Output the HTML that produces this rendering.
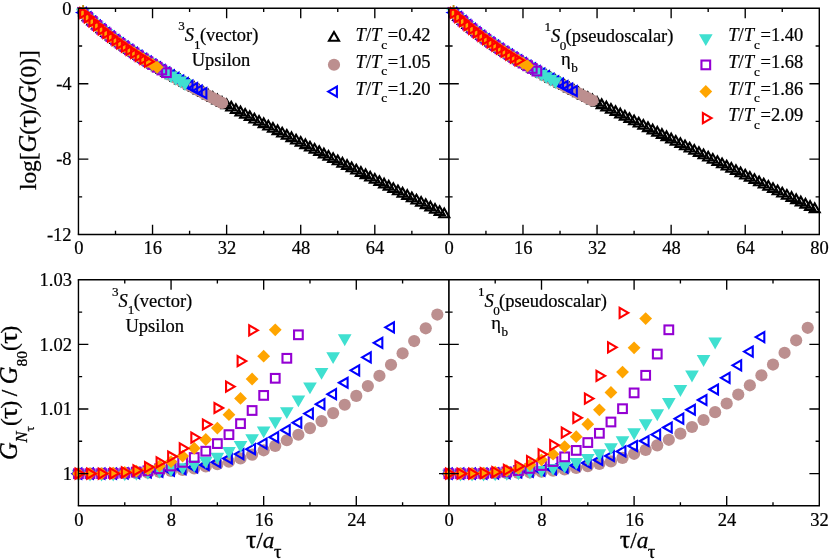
<!DOCTYPE html>
<html><head><meta charset="utf-8"><title>chart</title>
<style>html,body{margin:0;padding:0;background:#fff;overflow:hidden}svg{display:block;will-change:transform}</style></head>
<body>
<svg width="830" height="559" viewBox="0 0 830 559">
<rect width="830" height="559" fill="#fff"/>
<defs><clipPath id="cl"><rect x="77.85" y="7.7" width="373.65" height="227.45"/></clipPath><clipPath id="cr"><rect x="448.3" y="7.7" width="373.6" height="227.45"/></clipPath></defs>
<g clip-path="url(#cl)">
<g>
<path d="M78.45 2.5L73.43 11.2L83.47 11.2Z" fill="none" stroke="#000000" stroke-width="2.1"/>
<path d="M83.08 7.1L78.06 15.8L88.1 15.8Z" fill="none" stroke="#000000" stroke-width="2.1"/>
<path d="M87.71 11.48L82.69 20.18L92.73 20.18Z" fill="none" stroke="#000000" stroke-width="2.1"/>
<path d="M92.34 15.67L87.32 24.37L97.36 24.37Z" fill="none" stroke="#000000" stroke-width="2.1"/>
<path d="M96.97 19.68L91.95 28.38L102 28.38Z" fill="none" stroke="#000000" stroke-width="2.1"/>
<path d="M101.6 23.53L96.58 32.23L106.63 32.23Z" fill="none" stroke="#000000" stroke-width="2.1"/>
<path d="M106.23 27.23L101.21 35.93L111.26 35.93Z" fill="none" stroke="#000000" stroke-width="2.1"/>
<path d="M110.86 30.8L105.84 39.5L115.89 39.5Z" fill="none" stroke="#000000" stroke-width="2.1"/>
<path d="M115.5 34.25L110.47 42.95L120.52 42.95Z" fill="none" stroke="#000000" stroke-width="2.1"/>
<path d="M120.13 37.59L115.1 46.29L125.15 46.29Z" fill="none" stroke="#000000" stroke-width="2.1"/>
<path d="M124.76 40.83L119.73 49.53L129.78 49.53Z" fill="none" stroke="#000000" stroke-width="2.1"/>
<path d="M129.39 43.99L124.36 52.69L134.41 52.69Z" fill="none" stroke="#000000" stroke-width="2.1"/>
<path d="M134.02 47.06L128.99 55.76L139.04 55.76Z" fill="none" stroke="#000000" stroke-width="2.1"/>
<path d="M138.65 50.06L133.63 58.76L143.67 58.76Z" fill="none" stroke="#000000" stroke-width="2.1"/>
<path d="M143.28 53L138.26 61.7L148.3 61.7Z" fill="none" stroke="#000000" stroke-width="2.1"/>
<path d="M147.91 55.87L142.89 64.57L152.93 64.57Z" fill="none" stroke="#000000" stroke-width="2.1"/>
<path d="M152.54 58.7L147.52 67.4L157.56 67.4Z" fill="none" stroke="#000000" stroke-width="2.1"/>
<path d="M157.17 61.47L152.15 70.17L162.19 70.17Z" fill="none" stroke="#000000" stroke-width="2.1"/>
<path d="M161.8 64.19L156.78 72.89L166.82 72.89Z" fill="none" stroke="#000000" stroke-width="2.1"/>
<path d="M166.43 66.88L161.41 75.58L171.45 75.58Z" fill="none" stroke="#000000" stroke-width="2.1"/>
<path d="M171.06 69.53L166.04 78.23L176.09 78.23Z" fill="none" stroke="#000000" stroke-width="2.1"/>
<path d="M175.69 72.15L170.67 80.85L180.72 80.85Z" fill="none" stroke="#000000" stroke-width="2.1"/>
<path d="M180.32 74.74L175.3 83.44L185.35 83.44Z" fill="none" stroke="#000000" stroke-width="2.1"/>
<path d="M184.95 77.3L179.93 86L189.98 86Z" fill="none" stroke="#000000" stroke-width="2.1"/>
<path d="M189.59 79.83L184.56 88.53L194.61 88.53Z" fill="none" stroke="#000000" stroke-width="2.1"/>
<path d="M194.22 82.35L189.19 91.05L199.24 91.05Z" fill="none" stroke="#000000" stroke-width="2.1"/>
<path d="M198.85 84.84L193.82 93.54L203.87 93.54Z" fill="none" stroke="#000000" stroke-width="2.1"/>
<path d="M203.48 87.32L198.45 96.02L208.5 96.02Z" fill="none" stroke="#000000" stroke-width="2.1"/>
<path d="M208.11 89.77L203.08 98.47L213.13 98.47Z" fill="none" stroke="#000000" stroke-width="2.1"/>
<path d="M212.74 92.22L207.72 100.92L217.76 100.92Z" fill="none" stroke="#000000" stroke-width="2.1"/>
<path d="M217.37 94.65L212.35 103.35L222.39 103.35Z" fill="none" stroke="#000000" stroke-width="2.1"/>
<path d="M222 97.07L216.98 105.77L227.02 105.77Z" fill="none" stroke="#000000" stroke-width="2.1"/>
<path d="M226.63 99.47L221.61 108.17L231.65 108.17Z" fill="none" stroke="#000000" stroke-width="2.1"/>
<path d="M231.26 101.87L226.24 110.57L236.28 110.57Z" fill="none" stroke="#000000" stroke-width="2.1"/>
<path d="M235.89 104.26L230.87 112.96L240.91 112.96Z" fill="none" stroke="#000000" stroke-width="2.1"/>
<path d="M240.52 106.64L235.5 115.34L245.54 115.34Z" fill="none" stroke="#000000" stroke-width="2.1"/>
<path d="M245.15 109.01L240.13 117.71L250.18 117.71Z" fill="none" stroke="#000000" stroke-width="2.1"/>
<path d="M249.78 111.37L244.76 120.07L254.81 120.07Z" fill="none" stroke="#000000" stroke-width="2.1"/>
<path d="M254.41 113.73L249.39 122.43L259.44 122.43Z" fill="none" stroke="#000000" stroke-width="2.1"/>
<path d="M259.04 116.09L254.02 124.79L264.07 124.79Z" fill="none" stroke="#000000" stroke-width="2.1"/>
<path d="M263.68 118.44L258.65 127.14L268.7 127.14Z" fill="none" stroke="#000000" stroke-width="2.1"/>
<path d="M268.31 120.78L263.28 129.48L273.33 129.48Z" fill="none" stroke="#000000" stroke-width="2.1"/>
<path d="M272.94 123.12L267.91 131.82L277.96 131.82Z" fill="none" stroke="#000000" stroke-width="2.1"/>
<path d="M277.57 125.45L272.54 134.15L282.59 134.15Z" fill="none" stroke="#000000" stroke-width="2.1"/>
<path d="M282.2 127.79L277.17 136.49L287.22 136.49Z" fill="none" stroke="#000000" stroke-width="2.1"/>
<path d="M286.83 130.12L281.81 138.82L291.85 138.82Z" fill="none" stroke="#000000" stroke-width="2.1"/>
<path d="M291.46 132.44L286.44 141.14L296.48 141.14Z" fill="none" stroke="#000000" stroke-width="2.1"/>
<path d="M296.09 134.77L291.07 143.47L301.11 143.47Z" fill="none" stroke="#000000" stroke-width="2.1"/>
<path d="M300.72 137.09L295.7 145.79L305.74 145.79Z" fill="none" stroke="#000000" stroke-width="2.1"/>
<path d="M305.35 139.41L300.33 148.11L310.37 148.11Z" fill="none" stroke="#000000" stroke-width="2.1"/>
<path d="M309.98 141.73L304.96 150.43L315 150.43Z" fill="none" stroke="#000000" stroke-width="2.1"/>
<path d="M314.61 144.04L309.59 152.74L319.63 152.74Z" fill="none" stroke="#000000" stroke-width="2.1"/>
<path d="M319.24 146.36L314.22 155.06L324.27 155.06Z" fill="none" stroke="#000000" stroke-width="2.1"/>
<path d="M323.87 148.67L318.85 157.37L328.9 157.37Z" fill="none" stroke="#000000" stroke-width="2.1"/>
<path d="M328.5 150.98L323.48 159.68L333.53 159.68Z" fill="none" stroke="#000000" stroke-width="2.1"/>
<path d="M333.13 153.29L328.11 161.99L338.16 161.99Z" fill="none" stroke="#000000" stroke-width="2.1"/>
<path d="M337.76 155.6L332.74 164.3L342.79 164.3Z" fill="none" stroke="#000000" stroke-width="2.1"/>
<path d="M342.4 157.91L337.37 166.61L347.42 166.61Z" fill="none" stroke="#000000" stroke-width="2.1"/>
<path d="M347.03 160.22L342 168.92L352.05 168.92Z" fill="none" stroke="#000000" stroke-width="2.1"/>
<path d="M351.66 162.53L346.63 171.23L356.68 171.23Z" fill="none" stroke="#000000" stroke-width="2.1"/>
<path d="M356.29 164.84L351.26 173.54L361.31 173.54Z" fill="none" stroke="#000000" stroke-width="2.1"/>
<path d="M360.92 167.14L355.9 175.84L365.94 175.84Z" fill="none" stroke="#000000" stroke-width="2.1"/>
<path d="M365.55 169.45L360.53 178.15L370.57 178.15Z" fill="none" stroke="#000000" stroke-width="2.1"/>
<path d="M370.18 171.75L365.16 180.45L375.2 180.45Z" fill="none" stroke="#000000" stroke-width="2.1"/>
<path d="M374.81 174.06L369.79 182.76L379.83 182.76Z" fill="none" stroke="#000000" stroke-width="2.1"/>
<path d="M379.44 176.36L374.42 185.06L384.46 185.06Z" fill="none" stroke="#000000" stroke-width="2.1"/>
<path d="M384.07 178.66L379.05 187.36L389.09 187.36Z" fill="none" stroke="#000000" stroke-width="2.1"/>
<path d="M388.7 180.97L383.68 189.67L393.72 189.67Z" fill="none" stroke="#000000" stroke-width="2.1"/>
<path d="M393.33 183.27L388.31 191.97L398.36 191.97Z" fill="none" stroke="#000000" stroke-width="2.1"/>
<path d="M397.96 185.57L392.94 194.27L402.99 194.27Z" fill="none" stroke="#000000" stroke-width="2.1"/>
<path d="M402.59 187.88L397.57 196.58L407.62 196.58Z" fill="none" stroke="#000000" stroke-width="2.1"/>
<path d="M407.22 190.18L402.2 198.88L412.25 198.88Z" fill="none" stroke="#000000" stroke-width="2.1"/>
<path d="M411.86 192.48L406.83 201.18L416.88 201.18Z" fill="none" stroke="#000000" stroke-width="2.1"/>
<path d="M416.49 194.78L411.46 203.48L421.51 203.48Z" fill="none" stroke="#000000" stroke-width="2.1"/>
<path d="M421.12 197.08L416.09 205.78L426.14 205.78Z" fill="none" stroke="#000000" stroke-width="2.1"/>
<path d="M425.75 199.39L420.72 208.09L430.77 208.09Z" fill="none" stroke="#000000" stroke-width="2.1"/>
<path d="M430.38 201.69L425.35 210.39L435.4 210.39Z" fill="none" stroke="#000000" stroke-width="2.1"/>
<path d="M435.01 203.99L429.99 212.69L440.03 212.69Z" fill="none" stroke="#000000" stroke-width="2.1"/>
<path d="M439.64 206.29L434.62 214.99L444.66 214.99Z" fill="none" stroke="#000000" stroke-width="2.1"/>
<path d="M444.27 208.59L439.25 217.29L449.29 217.29Z" fill="none" stroke="#000000" stroke-width="2.1"/>
</g>
<g>
<circle cx="78.45" cy="8.3" r="6.1" fill="#bc8f8f" stroke="none"/>
<circle cx="83.08" cy="12.9" r="6.1" fill="#bc8f8f" stroke="none"/>
<circle cx="87.71" cy="17.28" r="6.1" fill="#bc8f8f" stroke="none"/>
<circle cx="92.34" cy="21.47" r="6.1" fill="#bc8f8f" stroke="none"/>
<circle cx="96.97" cy="25.48" r="6.1" fill="#bc8f8f" stroke="none"/>
<circle cx="101.6" cy="29.33" r="6.1" fill="#bc8f8f" stroke="none"/>
<circle cx="106.23" cy="33.03" r="6.1" fill="#bc8f8f" stroke="none"/>
<circle cx="110.86" cy="36.6" r="6.1" fill="#bc8f8f" stroke="none"/>
<circle cx="115.5" cy="40.05" r="6.1" fill="#bc8f8f" stroke="none"/>
<circle cx="120.13" cy="43.39" r="6.1" fill="#bc8f8f" stroke="none"/>
<circle cx="124.76" cy="46.63" r="6.1" fill="#bc8f8f" stroke="none"/>
<circle cx="129.39" cy="49.79" r="6.1" fill="#bc8f8f" stroke="none"/>
<circle cx="134.02" cy="52.86" r="6.1" fill="#bc8f8f" stroke="none"/>
<circle cx="138.65" cy="55.86" r="6.1" fill="#bc8f8f" stroke="none"/>
<circle cx="143.28" cy="58.8" r="6.1" fill="#bc8f8f" stroke="none"/>
<circle cx="147.91" cy="61.67" r="6.1" fill="#bc8f8f" stroke="none"/>
<circle cx="152.54" cy="64.5" r="6.1" fill="#bc8f8f" stroke="none"/>
<circle cx="157.17" cy="67.27" r="6.1" fill="#bc8f8f" stroke="none"/>
<circle cx="161.8" cy="69.99" r="6.1" fill="#bc8f8f" stroke="none"/>
<circle cx="166.43" cy="72.68" r="6.1" fill="#bc8f8f" stroke="none"/>
<circle cx="171.06" cy="75.33" r="6.1" fill="#bc8f8f" stroke="none"/>
<circle cx="175.69" cy="77.95" r="6.1" fill="#bc8f8f" stroke="none"/>
<circle cx="180.32" cy="80.54" r="6.1" fill="#bc8f8f" stroke="none"/>
<circle cx="184.95" cy="83.1" r="6.1" fill="#bc8f8f" stroke="none"/>
<circle cx="189.59" cy="85.63" r="6.1" fill="#bc8f8f" stroke="none"/>
<circle cx="194.22" cy="88.15" r="6.1" fill="#bc8f8f" stroke="none"/>
<circle cx="198.85" cy="90.64" r="6.1" fill="#bc8f8f" stroke="none"/>
<circle cx="203.48" cy="93.12" r="6.1" fill="#bc8f8f" stroke="none"/>
<circle cx="208.11" cy="95.57" r="6.1" fill="#bc8f8f" stroke="none"/>
<circle cx="212.74" cy="98.02" r="6.1" fill="#bc8f8f" stroke="none"/>
<circle cx="217.37" cy="100.45" r="6.1" fill="#bc8f8f" stroke="none"/>
<circle cx="222" cy="102.87" r="6.1" fill="#bc8f8f" stroke="none"/>
</g>
<g>
<path d="M72.65 8.3L81.35 3.28L81.35 13.32Z" fill="none" stroke="#0000ff" stroke-width="2.1"/>
<path d="M77.28 12.9L85.98 7.88L85.98 17.92Z" fill="none" stroke="#0000ff" stroke-width="2.1"/>
<path d="M81.91 17.28L90.61 12.26L90.61 22.31Z" fill="none" stroke="#0000ff" stroke-width="2.1"/>
<path d="M86.54 21.47L95.24 16.45L95.24 26.49Z" fill="none" stroke="#0000ff" stroke-width="2.1"/>
<path d="M91.17 25.48L99.87 20.46L99.87 30.5Z" fill="none" stroke="#0000ff" stroke-width="2.1"/>
<path d="M95.8 29.33L104.5 24.3L104.5 34.35Z" fill="none" stroke="#0000ff" stroke-width="2.1"/>
<path d="M100.43 33.03L109.13 28.01L109.13 38.05Z" fill="none" stroke="#0000ff" stroke-width="2.1"/>
<path d="M105.06 36.6L113.76 31.58L113.76 41.62Z" fill="none" stroke="#0000ff" stroke-width="2.1"/>
<path d="M109.7 40.05L118.4 35.03L118.4 45.07Z" fill="none" stroke="#0000ff" stroke-width="2.1"/>
<path d="M114.33 43.39L123.03 38.37L123.03 48.41Z" fill="none" stroke="#0000ff" stroke-width="2.1"/>
<path d="M118.96 46.63L127.66 41.61L127.66 51.66Z" fill="none" stroke="#0000ff" stroke-width="2.1"/>
<path d="M123.59 49.79L132.29 44.77L132.29 54.81Z" fill="none" stroke="#0000ff" stroke-width="2.1"/>
<path d="M128.22 52.86L136.92 47.84L136.92 57.89Z" fill="none" stroke="#0000ff" stroke-width="2.1"/>
<path d="M132.85 55.86L141.55 50.84L141.55 60.89Z" fill="none" stroke="#0000ff" stroke-width="2.1"/>
<path d="M137.48 58.8L146.18 53.78L146.18 63.82Z" fill="none" stroke="#0000ff" stroke-width="2.1"/>
<path d="M142.11 61.67L150.81 56.65L150.81 66.7Z" fill="none" stroke="#0000ff" stroke-width="2.1"/>
<path d="M146.74 64.5L155.44 59.47L155.44 69.52Z" fill="none" stroke="#0000ff" stroke-width="2.1"/>
<path d="M151.37 67.27L160.07 62.24L160.07 72.29Z" fill="none" stroke="#0000ff" stroke-width="2.1"/>
<path d="M156 69.99L164.7 64.97L164.7 75.02Z" fill="none" stroke="#0000ff" stroke-width="2.1"/>
<path d="M160.63 72.68L169.33 67.66L169.33 77.7Z" fill="none" stroke="#0000ff" stroke-width="2.1"/>
<path d="M165.26 75.33L173.96 70.31L173.96 80.35Z" fill="none" stroke="#0000ff" stroke-width="2.1"/>
<path d="M169.89 77.95L178.59 72.93L178.59 82.97Z" fill="none" stroke="#0000ff" stroke-width="2.1"/>
<path d="M174.52 80.54L183.22 75.51L183.22 85.56Z" fill="none" stroke="#0000ff" stroke-width="2.1"/>
<path d="M179.15 83.1L187.85 78.07L187.85 88.12Z" fill="none" stroke="#0000ff" stroke-width="2.1"/>
<path d="M183.78 85.63L192.49 80.61L192.49 90.66Z" fill="none" stroke="#0000ff" stroke-width="2.1"/>
<path d="M188.42 88.15L197.12 83.12L197.12 93.17Z" fill="none" stroke="#0000ff" stroke-width="2.1"/>
<path d="M193.05 90.64L201.75 85.62L201.75 95.66Z" fill="none" stroke="#0000ff" stroke-width="2.1"/>
<path d="M197.68 93.12L206.38 88.09L206.38 98.14Z" fill="none" stroke="#0000ff" stroke-width="2.1"/>
</g>
<g>
<path d="M78.45 14.1L73.43 5.4L83.47 5.4Z" fill="#40e0d0" stroke="#40e0d0" stroke-width="2.1"/>
<path d="M83.08 18.7L78.06 10L88.1 10Z" fill="#40e0d0" stroke="#40e0d0" stroke-width="2.1"/>
<path d="M87.71 23.08L82.69 14.38L92.73 14.38Z" fill="#40e0d0" stroke="#40e0d0" stroke-width="2.1"/>
<path d="M92.34 27.27L87.32 18.57L97.36 18.57Z" fill="#40e0d0" stroke="#40e0d0" stroke-width="2.1"/>
<path d="M96.97 31.28L91.95 22.58L102 22.58Z" fill="#40e0d0" stroke="#40e0d0" stroke-width="2.1"/>
<path d="M101.6 35.13L96.58 26.43L106.63 26.43Z" fill="#40e0d0" stroke="#40e0d0" stroke-width="2.1"/>
<path d="M106.23 38.83L101.21 30.13L111.26 30.13Z" fill="#40e0d0" stroke="#40e0d0" stroke-width="2.1"/>
<path d="M110.86 42.4L105.84 33.7L115.89 33.7Z" fill="#40e0d0" stroke="#40e0d0" stroke-width="2.1"/>
<path d="M115.5 45.85L110.47 37.15L120.52 37.15Z" fill="#40e0d0" stroke="#40e0d0" stroke-width="2.1"/>
<path d="M120.13 49.19L115.1 40.49L125.15 40.49Z" fill="#40e0d0" stroke="#40e0d0" stroke-width="2.1"/>
<path d="M124.76 52.43L119.73 43.73L129.78 43.73Z" fill="#40e0d0" stroke="#40e0d0" stroke-width="2.1"/>
<path d="M129.39 55.59L124.36 46.89L134.41 46.89Z" fill="#40e0d0" stroke="#40e0d0" stroke-width="2.1"/>
<path d="M134.02 58.66L128.99 49.96L139.04 49.96Z" fill="#40e0d0" stroke="#40e0d0" stroke-width="2.1"/>
<path d="M138.65 61.66L133.63 52.96L143.67 52.96Z" fill="#40e0d0" stroke="#40e0d0" stroke-width="2.1"/>
<path d="M143.28 64.6L138.26 55.9L148.3 55.9Z" fill="#40e0d0" stroke="#40e0d0" stroke-width="2.1"/>
<path d="M147.91 67.47L142.89 58.77L152.93 58.77Z" fill="#40e0d0" stroke="#40e0d0" stroke-width="2.1"/>
<path d="M152.54 70.3L147.52 61.6L157.56 61.6Z" fill="#40e0d0" stroke="#40e0d0" stroke-width="2.1"/>
<path d="M157.17 73.07L152.15 64.37L162.19 64.37Z" fill="#40e0d0" stroke="#40e0d0" stroke-width="2.1"/>
<path d="M161.8 75.79L156.78 67.09L166.82 67.09Z" fill="#40e0d0" stroke="#40e0d0" stroke-width="2.1"/>
<path d="M166.43 78.48L161.41 69.78L171.45 69.78Z" fill="#40e0d0" stroke="#40e0d0" stroke-width="2.1"/>
<path d="M171.06 81.13L166.04 72.43L176.09 72.43Z" fill="#40e0d0" stroke="#40e0d0" stroke-width="2.1"/>
<path d="M175.69 83.75L170.67 75.05L180.72 75.05Z" fill="#40e0d0" stroke="#40e0d0" stroke-width="2.1"/>
<path d="M180.32 86.34L175.3 77.64L185.35 77.64Z" fill="#40e0d0" stroke="#40e0d0" stroke-width="2.1"/>
<path d="M184.95 88.9L179.93 80.2L189.98 80.2Z" fill="#40e0d0" stroke="#40e0d0" stroke-width="2.1"/>
</g>
<g>
<rect x="74.1" y="3.95" width="8.7" height="8.7" fill="none" stroke="#9400d3" stroke-width="2.1"/>
<rect x="78.73" y="8.55" width="8.7" height="8.7" fill="none" stroke="#9400d3" stroke-width="2.1"/>
<rect x="83.36" y="12.93" width="8.7" height="8.7" fill="none" stroke="#9400d3" stroke-width="2.1"/>
<rect x="87.99" y="17.12" width="8.7" height="8.7" fill="none" stroke="#9400d3" stroke-width="2.1"/>
<rect x="92.62" y="21.13" width="8.7" height="8.7" fill="none" stroke="#9400d3" stroke-width="2.1"/>
<rect x="97.25" y="24.98" width="8.7" height="8.7" fill="none" stroke="#9400d3" stroke-width="2.1"/>
<rect x="101.88" y="28.68" width="8.7" height="8.7" fill="none" stroke="#9400d3" stroke-width="2.1"/>
<rect x="106.51" y="32.25" width="8.7" height="8.7" fill="none" stroke="#9400d3" stroke-width="2.1"/>
<rect x="111.15" y="35.7" width="8.7" height="8.7" fill="none" stroke="#9400d3" stroke-width="2.1"/>
<rect x="115.78" y="39.04" width="8.7" height="8.7" fill="none" stroke="#9400d3" stroke-width="2.1"/>
<rect x="120.41" y="42.28" width="8.7" height="8.7" fill="none" stroke="#9400d3" stroke-width="2.1"/>
<rect x="125.04" y="45.44" width="8.7" height="8.7" fill="none" stroke="#9400d3" stroke-width="2.1"/>
<rect x="129.67" y="48.51" width="8.7" height="8.7" fill="none" stroke="#9400d3" stroke-width="2.1"/>
<rect x="134.3" y="51.51" width="8.7" height="8.7" fill="none" stroke="#9400d3" stroke-width="2.1"/>
<rect x="138.93" y="54.45" width="8.7" height="8.7" fill="none" stroke="#9400d3" stroke-width="2.1"/>
<rect x="143.56" y="57.32" width="8.7" height="8.7" fill="none" stroke="#9400d3" stroke-width="2.1"/>
<rect x="148.19" y="60.15" width="8.7" height="8.7" fill="none" stroke="#9400d3" stroke-width="2.1"/>
<rect x="152.82" y="62.92" width="8.7" height="8.7" fill="none" stroke="#9400d3" stroke-width="2.1"/>
<rect x="157.45" y="65.64" width="8.7" height="8.7" fill="none" stroke="#9400d3" stroke-width="2.1"/>
<rect x="162.08" y="68.33" width="8.7" height="8.7" fill="none" stroke="#9400d3" stroke-width="2.1"/>
</g>
<g>
<path d="M72.05 8.3L78.45 1.9L84.85 8.3L78.45 14.7Z" fill="#ffa500" stroke="none"/>
<path d="M76.68 12.9L83.08 6.5L89.48 12.9L83.08 19.3Z" fill="#ffa500" stroke="none"/>
<path d="M81.31 17.28L87.71 10.88L94.11 17.28L87.71 23.68Z" fill="#ffa500" stroke="none"/>
<path d="M85.94 21.47L92.34 15.07L98.74 21.47L92.34 27.87Z" fill="#ffa500" stroke="none"/>
<path d="M90.57 25.48L96.97 19.08L103.37 25.48L96.97 31.88Z" fill="#ffa500" stroke="none"/>
<path d="M95.2 29.33L101.6 22.93L108 29.33L101.6 35.73Z" fill="#ffa500" stroke="none"/>
<path d="M99.83 33.03L106.23 26.63L112.63 33.03L106.23 39.43Z" fill="#ffa500" stroke="none"/>
<path d="M104.46 36.6L110.86 30.2L117.26 36.6L110.86 43Z" fill="#ffa500" stroke="none"/>
<path d="M109.09 40.05L115.5 33.65L121.9 40.05L115.5 46.45Z" fill="#ffa500" stroke="none"/>
<path d="M113.73 43.39L120.13 36.99L126.53 43.39L120.13 49.79Z" fill="#ffa500" stroke="none"/>
<path d="M118.36 46.63L124.76 40.23L131.16 46.63L124.76 53.03Z" fill="#ffa500" stroke="none"/>
<path d="M122.99 49.79L129.39 43.39L135.79 49.79L129.39 56.19Z" fill="#ffa500" stroke="none"/>
<path d="M127.62 52.86L134.02 46.46L140.42 52.86L134.02 59.26Z" fill="#ffa500" stroke="none"/>
<path d="M132.25 55.86L138.65 49.46L145.05 55.86L138.65 62.26Z" fill="#ffa500" stroke="none"/>
<path d="M136.88 58.8L143.28 52.4L149.68 58.8L143.28 65.2Z" fill="#ffa500" stroke="none"/>
<path d="M141.51 61.67L147.91 55.27L154.31 61.67L147.91 68.07Z" fill="#ffa500" stroke="none"/>
<path d="M146.14 64.5L152.54 58.1L158.94 64.5L152.54 70.9Z" fill="#ffa500" stroke="none"/>
<path d="M150.77 67.27L157.17 60.87L163.57 67.27L157.17 73.67Z" fill="#ffa500" stroke="none"/>
</g>
<g>
<path d="M84.25 8.3L75.55 3.28L75.55 13.32Z" fill="none" stroke="#ff0000" stroke-width="2.1"/>
<path d="M88.88 12.9L80.18 7.88L80.18 17.92Z" fill="none" stroke="#ff0000" stroke-width="2.1"/>
<path d="M93.51 17.28L84.81 12.26L84.81 22.31Z" fill="none" stroke="#ff0000" stroke-width="2.1"/>
<path d="M98.14 21.47L89.44 16.45L89.44 26.49Z" fill="none" stroke="#ff0000" stroke-width="2.1"/>
<path d="M102.77 25.48L94.07 20.46L94.07 30.5Z" fill="none" stroke="#ff0000" stroke-width="2.1"/>
<path d="M107.4 29.33L98.7 24.3L98.7 34.35Z" fill="none" stroke="#ff0000" stroke-width="2.1"/>
<path d="M112.03 33.03L103.33 28.01L103.33 38.05Z" fill="none" stroke="#ff0000" stroke-width="2.1"/>
<path d="M116.66 36.6L107.96 31.58L107.96 41.62Z" fill="none" stroke="#ff0000" stroke-width="2.1"/>
<path d="M121.3 40.05L112.59 35.03L112.59 45.07Z" fill="none" stroke="#ff0000" stroke-width="2.1"/>
<path d="M125.93 43.39L117.23 38.37L117.23 48.41Z" fill="none" stroke="#ff0000" stroke-width="2.1"/>
<path d="M130.56 46.63L121.86 41.61L121.86 51.66Z" fill="none" stroke="#ff0000" stroke-width="2.1"/>
<path d="M135.19 49.79L126.49 44.77L126.49 54.81Z" fill="none" stroke="#ff0000" stroke-width="2.1"/>
<path d="M139.82 52.86L131.12 47.84L131.12 57.89Z" fill="none" stroke="#ff0000" stroke-width="2.1"/>
<path d="M144.45 55.86L135.75 50.84L135.75 60.89Z" fill="none" stroke="#ff0000" stroke-width="2.1"/>
<path d="M149.08 58.8L140.38 53.78L140.38 63.82Z" fill="none" stroke="#ff0000" stroke-width="2.1"/>
<path d="M153.71 61.67L145.01 56.65L145.01 66.7Z" fill="none" stroke="#ff0000" stroke-width="2.1"/>
</g>
</g>
<g clip-path="url(#cr)">
<g>
<path d="M448.9 2.5L443.88 11.2L453.92 11.2Z" fill="none" stroke="#000000" stroke-width="2.1"/>
<path d="M453.53 6.99L448.51 15.69L458.55 15.69Z" fill="none" stroke="#000000" stroke-width="2.1"/>
<path d="M458.16 11.26L453.14 19.96L463.18 19.96Z" fill="none" stroke="#000000" stroke-width="2.1"/>
<path d="M462.79 15.34L457.77 24.04L467.81 24.04Z" fill="none" stroke="#000000" stroke-width="2.1"/>
<path d="M467.42 19.25L462.4 27.95L472.44 27.95Z" fill="none" stroke="#000000" stroke-width="2.1"/>
<path d="M472.05 23L467.03 31.7L477.07 31.7Z" fill="none" stroke="#000000" stroke-width="2.1"/>
<path d="M476.68 26.61L471.66 35.31L481.7 35.31Z" fill="none" stroke="#000000" stroke-width="2.1"/>
<path d="M481.31 30.09L476.29 38.79L486.33 38.79Z" fill="none" stroke="#000000" stroke-width="2.1"/>
<path d="M485.94 33.46L480.92 42.16L490.96 42.16Z" fill="none" stroke="#000000" stroke-width="2.1"/>
<path d="M490.57 36.71L485.55 45.41L495.59 45.41Z" fill="none" stroke="#000000" stroke-width="2.1"/>
<path d="M495.2 39.88L490.18 48.58L500.22 48.58Z" fill="none" stroke="#000000" stroke-width="2.1"/>
<path d="M499.83 42.95L494.81 51.65L504.85 51.65Z" fill="none" stroke="#000000" stroke-width="2.1"/>
<path d="M504.46 45.95L499.44 54.65L509.48 54.65Z" fill="none" stroke="#000000" stroke-width="2.1"/>
<path d="M509.09 48.87L504.07 57.57L514.11 57.57Z" fill="none" stroke="#000000" stroke-width="2.1"/>
<path d="M513.72 51.74L508.7 60.44L518.74 60.44Z" fill="none" stroke="#000000" stroke-width="2.1"/>
<path d="M518.35 54.54L513.33 63.24L523.37 63.24Z" fill="none" stroke="#000000" stroke-width="2.1"/>
<path d="M522.98 57.29L517.96 65.99L528 65.99Z" fill="none" stroke="#000000" stroke-width="2.1"/>
<path d="M527.61 59.99L522.59 68.69L532.63 68.69Z" fill="none" stroke="#000000" stroke-width="2.1"/>
<path d="M532.24 62.65L527.22 71.35L537.26 71.35Z" fill="none" stroke="#000000" stroke-width="2.1"/>
<path d="M536.87 65.27L531.85 73.97L541.89 73.97Z" fill="none" stroke="#000000" stroke-width="2.1"/>
<path d="M541.5 67.86L536.48 76.56L546.52 76.56Z" fill="none" stroke="#000000" stroke-width="2.1"/>
<path d="M546.13 70.41L541.11 79.11L551.15 79.11Z" fill="none" stroke="#000000" stroke-width="2.1"/>
<path d="M550.76 72.93L545.74 81.63L555.78 81.63Z" fill="none" stroke="#000000" stroke-width="2.1"/>
<path d="M555.39 75.43L550.37 84.13L560.41 84.13Z" fill="none" stroke="#000000" stroke-width="2.1"/>
<path d="M560.02 77.9L555 86.6L565.04 86.6Z" fill="none" stroke="#000000" stroke-width="2.1"/>
<path d="M564.65 80.35L559.63 89.05L569.67 89.05Z" fill="none" stroke="#000000" stroke-width="2.1"/>
<path d="M569.28 82.78L564.26 91.48L574.3 91.48Z" fill="none" stroke="#000000" stroke-width="2.1"/>
<path d="M573.91 85.2L568.89 93.9L578.93 93.9Z" fill="none" stroke="#000000" stroke-width="2.1"/>
<path d="M578.54 87.59L573.52 96.29L583.56 96.29Z" fill="none" stroke="#000000" stroke-width="2.1"/>
<path d="M583.17 89.98L578.15 98.68L588.19 98.68Z" fill="none" stroke="#000000" stroke-width="2.1"/>
<path d="M587.8 92.34L582.78 101.04L592.82 101.04Z" fill="none" stroke="#000000" stroke-width="2.1"/>
<path d="M592.43 94.7L587.41 103.4L597.45 103.4Z" fill="none" stroke="#000000" stroke-width="2.1"/>
<path d="M597.06 97.05L592.04 105.75L602.08 105.75Z" fill="none" stroke="#000000" stroke-width="2.1"/>
<path d="M601.69 99.39L596.67 108.09L606.71 108.09Z" fill="none" stroke="#000000" stroke-width="2.1"/>
<path d="M606.32 101.71L601.3 110.41L611.34 110.41Z" fill="none" stroke="#000000" stroke-width="2.1"/>
<path d="M610.95 104.03L605.93 112.73L615.97 112.73Z" fill="none" stroke="#000000" stroke-width="2.1"/>
<path d="M615.58 106.35L610.56 115.05L620.6 115.05Z" fill="none" stroke="#000000" stroke-width="2.1"/>
<path d="M620.21 108.65L615.19 117.35L625.23 117.35Z" fill="none" stroke="#000000" stroke-width="2.1"/>
<path d="M624.84 110.95L619.82 119.65L629.86 119.65Z" fill="none" stroke="#000000" stroke-width="2.1"/>
<path d="M629.47 113.25L624.45 121.95L634.49 121.95Z" fill="none" stroke="#000000" stroke-width="2.1"/>
<path d="M634.1 115.54L629.08 124.24L639.12 124.24Z" fill="none" stroke="#000000" stroke-width="2.1"/>
<path d="M638.73 117.82L633.71 126.52L643.75 126.52Z" fill="none" stroke="#000000" stroke-width="2.1"/>
<path d="M643.36 120.1L638.34 128.8L648.38 128.8Z" fill="none" stroke="#000000" stroke-width="2.1"/>
<path d="M647.99 122.38L642.97 131.08L653.01 131.08Z" fill="none" stroke="#000000" stroke-width="2.1"/>
<path d="M652.62 124.65L647.6 133.35L657.64 133.35Z" fill="none" stroke="#000000" stroke-width="2.1"/>
<path d="M657.25 126.93L652.23 135.63L662.27 135.63Z" fill="none" stroke="#000000" stroke-width="2.1"/>
<path d="M661.88 129.19L656.86 137.89L666.9 137.89Z" fill="none" stroke="#000000" stroke-width="2.1"/>
<path d="M666.51 131.46L661.49 140.16L671.53 140.16Z" fill="none" stroke="#000000" stroke-width="2.1"/>
<path d="M671.14 133.72L666.12 142.42L676.16 142.42Z" fill="none" stroke="#000000" stroke-width="2.1"/>
<path d="M675.77 135.99L670.75 144.69L680.79 144.69Z" fill="none" stroke="#000000" stroke-width="2.1"/>
<path d="M680.4 138.25L675.38 146.95L685.42 146.95Z" fill="none" stroke="#000000" stroke-width="2.1"/>
<path d="M685.03 140.5L680.01 149.2L690.05 149.2Z" fill="none" stroke="#000000" stroke-width="2.1"/>
<path d="M689.66 142.76L684.64 151.46L694.68 151.46Z" fill="none" stroke="#000000" stroke-width="2.1"/>
<path d="M694.29 145.02L689.27 153.72L699.31 153.72Z" fill="none" stroke="#000000" stroke-width="2.1"/>
<path d="M698.92 147.27L693.9 155.97L703.94 155.97Z" fill="none" stroke="#000000" stroke-width="2.1"/>
<path d="M703.55 149.52L698.53 158.22L708.57 158.22Z" fill="none" stroke="#000000" stroke-width="2.1"/>
<path d="M708.18 151.78L703.16 160.48L713.2 160.48Z" fill="none" stroke="#000000" stroke-width="2.1"/>
<path d="M712.81 154.03L707.79 162.73L717.83 162.73Z" fill="none" stroke="#000000" stroke-width="2.1"/>
<path d="M717.44 156.28L712.42 164.98L722.46 164.98Z" fill="none" stroke="#000000" stroke-width="2.1"/>
<path d="M722.07 158.53L717.05 167.23L727.09 167.23Z" fill="none" stroke="#000000" stroke-width="2.1"/>
<path d="M726.7 160.78L721.68 169.48L731.72 169.48Z" fill="none" stroke="#000000" stroke-width="2.1"/>
<path d="M731.33 163.03L726.31 171.73L736.35 171.73Z" fill="none" stroke="#000000" stroke-width="2.1"/>
<path d="M735.96 165.27L730.94 173.97L740.98 173.97Z" fill="none" stroke="#000000" stroke-width="2.1"/>
<path d="M740.59 167.52L735.57 176.22L745.61 176.22Z" fill="none" stroke="#000000" stroke-width="2.1"/>
<path d="M745.22 169.77L740.2 178.47L750.24 178.47Z" fill="none" stroke="#000000" stroke-width="2.1"/>
<path d="M749.85 172.01L744.83 180.71L754.87 180.71Z" fill="none" stroke="#000000" stroke-width="2.1"/>
<path d="M754.48 174.26L749.46 182.96L759.5 182.96Z" fill="none" stroke="#000000" stroke-width="2.1"/>
<path d="M759.11 176.51L754.09 185.21L764.13 185.21Z" fill="none" stroke="#000000" stroke-width="2.1"/>
<path d="M763.74 178.75L758.72 187.45L768.76 187.45Z" fill="none" stroke="#000000" stroke-width="2.1"/>
<path d="M768.37 181L763.35 189.7L773.39 189.7Z" fill="none" stroke="#000000" stroke-width="2.1"/>
<path d="M773 183.24L767.98 191.94L778.02 191.94Z" fill="none" stroke="#000000" stroke-width="2.1"/>
<path d="M777.63 185.49L772.61 194.19L782.65 194.19Z" fill="none" stroke="#000000" stroke-width="2.1"/>
<path d="M782.26 187.73L777.24 196.43L787.28 196.43Z" fill="none" stroke="#000000" stroke-width="2.1"/>
<path d="M786.89 189.98L781.87 198.68L791.91 198.68Z" fill="none" stroke="#000000" stroke-width="2.1"/>
<path d="M791.52 192.22L786.5 200.92L796.54 200.92Z" fill="none" stroke="#000000" stroke-width="2.1"/>
<path d="M796.15 194.46L791.13 203.16L801.17 203.16Z" fill="none" stroke="#000000" stroke-width="2.1"/>
<path d="M800.78 196.71L795.76 205.41L805.8 205.41Z" fill="none" stroke="#000000" stroke-width="2.1"/>
<path d="M805.41 198.95L800.39 207.65L810.43 207.65Z" fill="none" stroke="#000000" stroke-width="2.1"/>
<path d="M810.04 201.19L805.02 209.89L815.06 209.89Z" fill="none" stroke="#000000" stroke-width="2.1"/>
<path d="M814.67 203.44L809.65 212.14L819.69 212.14Z" fill="none" stroke="#000000" stroke-width="2.1"/>
</g>
<g>
<circle cx="448.9" cy="8.3" r="6.1" fill="#bc8f8f" stroke="none"/>
<circle cx="453.53" cy="12.79" r="6.1" fill="#bc8f8f" stroke="none"/>
<circle cx="458.16" cy="17.06" r="6.1" fill="#bc8f8f" stroke="none"/>
<circle cx="462.79" cy="21.14" r="6.1" fill="#bc8f8f" stroke="none"/>
<circle cx="467.42" cy="25.05" r="6.1" fill="#bc8f8f" stroke="none"/>
<circle cx="472.05" cy="28.8" r="6.1" fill="#bc8f8f" stroke="none"/>
<circle cx="476.68" cy="32.41" r="6.1" fill="#bc8f8f" stroke="none"/>
<circle cx="481.31" cy="35.89" r="6.1" fill="#bc8f8f" stroke="none"/>
<circle cx="485.94" cy="39.26" r="6.1" fill="#bc8f8f" stroke="none"/>
<circle cx="490.57" cy="42.51" r="6.1" fill="#bc8f8f" stroke="none"/>
<circle cx="495.2" cy="45.68" r="6.1" fill="#bc8f8f" stroke="none"/>
<circle cx="499.83" cy="48.75" r="6.1" fill="#bc8f8f" stroke="none"/>
<circle cx="504.46" cy="51.75" r="6.1" fill="#bc8f8f" stroke="none"/>
<circle cx="509.09" cy="54.67" r="6.1" fill="#bc8f8f" stroke="none"/>
<circle cx="513.72" cy="57.54" r="6.1" fill="#bc8f8f" stroke="none"/>
<circle cx="518.35" cy="60.34" r="6.1" fill="#bc8f8f" stroke="none"/>
<circle cx="522.98" cy="63.09" r="6.1" fill="#bc8f8f" stroke="none"/>
<circle cx="527.61" cy="65.79" r="6.1" fill="#bc8f8f" stroke="none"/>
<circle cx="532.24" cy="68.45" r="6.1" fill="#bc8f8f" stroke="none"/>
<circle cx="536.87" cy="71.07" r="6.1" fill="#bc8f8f" stroke="none"/>
<circle cx="541.5" cy="73.66" r="6.1" fill="#bc8f8f" stroke="none"/>
<circle cx="546.13" cy="76.21" r="6.1" fill="#bc8f8f" stroke="none"/>
<circle cx="550.76" cy="78.73" r="6.1" fill="#bc8f8f" stroke="none"/>
<circle cx="555.39" cy="81.23" r="6.1" fill="#bc8f8f" stroke="none"/>
<circle cx="560.02" cy="83.7" r="6.1" fill="#bc8f8f" stroke="none"/>
<circle cx="564.65" cy="86.15" r="6.1" fill="#bc8f8f" stroke="none"/>
<circle cx="569.28" cy="88.58" r="6.1" fill="#bc8f8f" stroke="none"/>
<circle cx="573.91" cy="91" r="6.1" fill="#bc8f8f" stroke="none"/>
<circle cx="578.54" cy="93.39" r="6.1" fill="#bc8f8f" stroke="none"/>
<circle cx="583.17" cy="95.78" r="6.1" fill="#bc8f8f" stroke="none"/>
<circle cx="587.8" cy="98.14" r="6.1" fill="#bc8f8f" stroke="none"/>
<circle cx="592.43" cy="100.5" r="6.1" fill="#bc8f8f" stroke="none"/>
</g>
<g>
<path d="M443.1 8.3L451.8 3.28L451.8 13.32Z" fill="none" stroke="#0000ff" stroke-width="2.1"/>
<path d="M447.73 12.79L456.43 7.76L456.43 17.81Z" fill="none" stroke="#0000ff" stroke-width="2.1"/>
<path d="M452.36 17.06L461.06 12.04L461.06 22.08Z" fill="none" stroke="#0000ff" stroke-width="2.1"/>
<path d="M456.99 21.14L465.69 16.12L465.69 26.16Z" fill="none" stroke="#0000ff" stroke-width="2.1"/>
<path d="M461.62 25.05L470.32 20.03L470.32 30.07Z" fill="none" stroke="#0000ff" stroke-width="2.1"/>
<path d="M466.25 28.8L474.95 23.78L474.95 33.82Z" fill="none" stroke="#0000ff" stroke-width="2.1"/>
<path d="M470.88 32.41L479.58 27.39L479.58 37.43Z" fill="none" stroke="#0000ff" stroke-width="2.1"/>
<path d="M475.51 35.89L484.21 30.87L484.21 40.91Z" fill="none" stroke="#0000ff" stroke-width="2.1"/>
<path d="M480.14 39.26L488.84 34.23L488.84 44.28Z" fill="none" stroke="#0000ff" stroke-width="2.1"/>
<path d="M484.77 42.51L493.47 37.49L493.47 47.54Z" fill="none" stroke="#0000ff" stroke-width="2.1"/>
<path d="M489.4 45.68L498.1 40.65L498.1 50.7Z" fill="none" stroke="#0000ff" stroke-width="2.1"/>
<path d="M494.03 48.75L502.73 43.73L502.73 53.77Z" fill="none" stroke="#0000ff" stroke-width="2.1"/>
<path d="M498.66 51.75L507.36 46.73L507.36 56.77Z" fill="none" stroke="#0000ff" stroke-width="2.1"/>
<path d="M503.29 54.67L511.99 49.65L511.99 59.7Z" fill="none" stroke="#0000ff" stroke-width="2.1"/>
<path d="M507.92 57.54L516.62 52.51L516.62 62.56Z" fill="none" stroke="#0000ff" stroke-width="2.1"/>
<path d="M512.55 60.34L521.25 55.32L521.25 65.36Z" fill="none" stroke="#0000ff" stroke-width="2.1"/>
<path d="M517.18 63.09L525.88 58.07L525.88 68.11Z" fill="none" stroke="#0000ff" stroke-width="2.1"/>
<path d="M521.81 65.79L530.51 60.77L530.51 70.82Z" fill="none" stroke="#0000ff" stroke-width="2.1"/>
<path d="M526.44 68.45L535.14 63.43L535.14 73.47Z" fill="none" stroke="#0000ff" stroke-width="2.1"/>
<path d="M531.07 71.07L539.77 66.05L539.77 76.09Z" fill="none" stroke="#0000ff" stroke-width="2.1"/>
<path d="M535.7 73.66L544.4 68.63L544.4 78.68Z" fill="none" stroke="#0000ff" stroke-width="2.1"/>
<path d="M540.33 76.21L549.03 71.19L549.03 81.23Z" fill="none" stroke="#0000ff" stroke-width="2.1"/>
<path d="M544.96 78.73L553.66 73.71L553.66 83.75Z" fill="none" stroke="#0000ff" stroke-width="2.1"/>
<path d="M549.59 81.23L558.29 76.2L558.29 86.25Z" fill="none" stroke="#0000ff" stroke-width="2.1"/>
<path d="M554.22 83.7L562.92 78.68L562.92 88.72Z" fill="none" stroke="#0000ff" stroke-width="2.1"/>
<path d="M558.85 86.15L567.55 81.13L567.55 91.17Z" fill="none" stroke="#0000ff" stroke-width="2.1"/>
<path d="M563.48 88.58L572.18 83.56L572.18 93.6Z" fill="none" stroke="#0000ff" stroke-width="2.1"/>
<path d="M568.11 91L576.81 85.97L576.81 96.02Z" fill="none" stroke="#0000ff" stroke-width="2.1"/>
</g>
<g>
<path d="M448.9 14.1L443.88 5.4L453.92 5.4Z" fill="#40e0d0" stroke="#40e0d0" stroke-width="2.1"/>
<path d="M453.53 18.59L448.51 9.89L458.55 9.89Z" fill="#40e0d0" stroke="#40e0d0" stroke-width="2.1"/>
<path d="M458.16 22.86L453.14 14.16L463.18 14.16Z" fill="#40e0d0" stroke="#40e0d0" stroke-width="2.1"/>
<path d="M462.79 26.94L457.77 18.24L467.81 18.24Z" fill="#40e0d0" stroke="#40e0d0" stroke-width="2.1"/>
<path d="M467.42 30.85L462.4 22.15L472.44 22.15Z" fill="#40e0d0" stroke="#40e0d0" stroke-width="2.1"/>
<path d="M472.05 34.6L467.03 25.9L477.07 25.9Z" fill="#40e0d0" stroke="#40e0d0" stroke-width="2.1"/>
<path d="M476.68 38.21L471.66 29.51L481.7 29.51Z" fill="#40e0d0" stroke="#40e0d0" stroke-width="2.1"/>
<path d="M481.31 41.69L476.29 32.99L486.33 32.99Z" fill="#40e0d0" stroke="#40e0d0" stroke-width="2.1"/>
<path d="M485.94 45.06L480.92 36.36L490.96 36.36Z" fill="#40e0d0" stroke="#40e0d0" stroke-width="2.1"/>
<path d="M490.57 48.31L485.55 39.61L495.59 39.61Z" fill="#40e0d0" stroke="#40e0d0" stroke-width="2.1"/>
<path d="M495.2 51.48L490.18 42.78L500.22 42.78Z" fill="#40e0d0" stroke="#40e0d0" stroke-width="2.1"/>
<path d="M499.83 54.55L494.81 45.85L504.85 45.85Z" fill="#40e0d0" stroke="#40e0d0" stroke-width="2.1"/>
<path d="M504.46 57.55L499.44 48.85L509.48 48.85Z" fill="#40e0d0" stroke="#40e0d0" stroke-width="2.1"/>
<path d="M509.09 60.47L504.07 51.77L514.11 51.77Z" fill="#40e0d0" stroke="#40e0d0" stroke-width="2.1"/>
<path d="M513.72 63.34L508.7 54.64L518.74 54.64Z" fill="#40e0d0" stroke="#40e0d0" stroke-width="2.1"/>
<path d="M518.35 66.14L513.33 57.44L523.37 57.44Z" fill="#40e0d0" stroke="#40e0d0" stroke-width="2.1"/>
<path d="M522.98 68.89L517.96 60.19L528 60.19Z" fill="#40e0d0" stroke="#40e0d0" stroke-width="2.1"/>
<path d="M527.61 71.59L522.59 62.89L532.63 62.89Z" fill="#40e0d0" stroke="#40e0d0" stroke-width="2.1"/>
<path d="M532.24 74.25L527.22 65.55L537.26 65.55Z" fill="#40e0d0" stroke="#40e0d0" stroke-width="2.1"/>
<path d="M536.87 76.87L531.85 68.17L541.89 68.17Z" fill="#40e0d0" stroke="#40e0d0" stroke-width="2.1"/>
<path d="M541.5 79.46L536.48 70.76L546.52 70.76Z" fill="#40e0d0" stroke="#40e0d0" stroke-width="2.1"/>
<path d="M546.13 82.01L541.11 73.31L551.15 73.31Z" fill="#40e0d0" stroke="#40e0d0" stroke-width="2.1"/>
<path d="M550.76 84.53L545.74 75.83L555.78 75.83Z" fill="#40e0d0" stroke="#40e0d0" stroke-width="2.1"/>
<path d="M555.39 87.03L550.37 78.33L560.41 78.33Z" fill="#40e0d0" stroke="#40e0d0" stroke-width="2.1"/>
</g>
<g>
<rect x="444.55" y="3.95" width="8.7" height="8.7" fill="none" stroke="#9400d3" stroke-width="2.1"/>
<rect x="449.18" y="8.44" width="8.7" height="8.7" fill="none" stroke="#9400d3" stroke-width="2.1"/>
<rect x="453.81" y="12.71" width="8.7" height="8.7" fill="none" stroke="#9400d3" stroke-width="2.1"/>
<rect x="458.44" y="16.79" width="8.7" height="8.7" fill="none" stroke="#9400d3" stroke-width="2.1"/>
<rect x="463.07" y="20.7" width="8.7" height="8.7" fill="none" stroke="#9400d3" stroke-width="2.1"/>
<rect x="467.7" y="24.45" width="8.7" height="8.7" fill="none" stroke="#9400d3" stroke-width="2.1"/>
<rect x="472.33" y="28.06" width="8.7" height="8.7" fill="none" stroke="#9400d3" stroke-width="2.1"/>
<rect x="476.96" y="31.54" width="8.7" height="8.7" fill="none" stroke="#9400d3" stroke-width="2.1"/>
<rect x="481.59" y="34.91" width="8.7" height="8.7" fill="none" stroke="#9400d3" stroke-width="2.1"/>
<rect x="486.22" y="38.16" width="8.7" height="8.7" fill="none" stroke="#9400d3" stroke-width="2.1"/>
<rect x="490.85" y="41.33" width="8.7" height="8.7" fill="none" stroke="#9400d3" stroke-width="2.1"/>
<rect x="495.48" y="44.4" width="8.7" height="8.7" fill="none" stroke="#9400d3" stroke-width="2.1"/>
<rect x="500.11" y="47.4" width="8.7" height="8.7" fill="none" stroke="#9400d3" stroke-width="2.1"/>
<rect x="504.74" y="50.32" width="8.7" height="8.7" fill="none" stroke="#9400d3" stroke-width="2.1"/>
<rect x="509.37" y="53.19" width="8.7" height="8.7" fill="none" stroke="#9400d3" stroke-width="2.1"/>
<rect x="514" y="55.99" width="8.7" height="8.7" fill="none" stroke="#9400d3" stroke-width="2.1"/>
<rect x="518.63" y="58.74" width="8.7" height="8.7" fill="none" stroke="#9400d3" stroke-width="2.1"/>
<rect x="523.26" y="61.44" width="8.7" height="8.7" fill="none" stroke="#9400d3" stroke-width="2.1"/>
<rect x="527.89" y="64.1" width="8.7" height="8.7" fill="none" stroke="#9400d3" stroke-width="2.1"/>
<rect x="532.52" y="66.72" width="8.7" height="8.7" fill="none" stroke="#9400d3" stroke-width="2.1"/>
</g>
<g>
<path d="M442.5 8.3L448.9 1.9L455.3 8.3L448.9 14.7Z" fill="#ffa500" stroke="none"/>
<path d="M447.13 12.79L453.53 6.39L459.93 12.79L453.53 19.19Z" fill="#ffa500" stroke="none"/>
<path d="M451.76 17.06L458.16 10.66L464.56 17.06L458.16 23.46Z" fill="#ffa500" stroke="none"/>
<path d="M456.39 21.14L462.79 14.74L469.19 21.14L462.79 27.54Z" fill="#ffa500" stroke="none"/>
<path d="M461.02 25.05L467.42 18.65L473.82 25.05L467.42 31.45Z" fill="#ffa500" stroke="none"/>
<path d="M465.65 28.8L472.05 22.4L478.45 28.8L472.05 35.2Z" fill="#ffa500" stroke="none"/>
<path d="M470.28 32.41L476.68 26.01L483.08 32.41L476.68 38.81Z" fill="#ffa500" stroke="none"/>
<path d="M474.91 35.89L481.31 29.49L487.71 35.89L481.31 42.29Z" fill="#ffa500" stroke="none"/>
<path d="M479.54 39.26L485.94 32.86L492.34 39.26L485.94 45.66Z" fill="#ffa500" stroke="none"/>
<path d="M484.17 42.51L490.57 36.11L496.97 42.51L490.57 48.91Z" fill="#ffa500" stroke="none"/>
<path d="M488.8 45.68L495.2 39.28L501.6 45.68L495.2 52.08Z" fill="#ffa500" stroke="none"/>
<path d="M493.43 48.75L499.83 42.35L506.23 48.75L499.83 55.15Z" fill="#ffa500" stroke="none"/>
<path d="M498.06 51.75L504.46 45.35L510.86 51.75L504.46 58.15Z" fill="#ffa500" stroke="none"/>
<path d="M502.69 54.67L509.09 48.27L515.49 54.67L509.09 61.07Z" fill="#ffa500" stroke="none"/>
<path d="M507.32 57.54L513.72 51.14L520.12 57.54L513.72 63.94Z" fill="#ffa500" stroke="none"/>
<path d="M511.95 60.34L518.35 53.94L524.75 60.34L518.35 66.74Z" fill="#ffa500" stroke="none"/>
<path d="M516.58 63.09L522.98 56.69L529.38 63.09L522.98 69.49Z" fill="#ffa500" stroke="none"/>
<path d="M521.21 65.79L527.61 59.39L534.01 65.79L527.61 72.19Z" fill="#ffa500" stroke="none"/>
</g>
<g>
<path d="M454.7 8.3L446 3.28L446 13.32Z" fill="none" stroke="#ff0000" stroke-width="2.1"/>
<path d="M459.33 12.79L450.63 7.76L450.63 17.81Z" fill="none" stroke="#ff0000" stroke-width="2.1"/>
<path d="M463.96 17.06L455.26 12.04L455.26 22.08Z" fill="none" stroke="#ff0000" stroke-width="2.1"/>
<path d="M468.59 21.14L459.89 16.12L459.89 26.16Z" fill="none" stroke="#ff0000" stroke-width="2.1"/>
<path d="M473.22 25.05L464.52 20.03L464.52 30.07Z" fill="none" stroke="#ff0000" stroke-width="2.1"/>
<path d="M477.85 28.8L469.15 23.78L469.15 33.82Z" fill="none" stroke="#ff0000" stroke-width="2.1"/>
<path d="M482.48 32.41L473.78 27.39L473.78 37.43Z" fill="none" stroke="#ff0000" stroke-width="2.1"/>
<path d="M487.11 35.89L478.41 30.87L478.41 40.91Z" fill="none" stroke="#ff0000" stroke-width="2.1"/>
<path d="M491.74 39.26L483.04 34.23L483.04 44.28Z" fill="none" stroke="#ff0000" stroke-width="2.1"/>
<path d="M496.37 42.51L487.67 37.49L487.67 47.54Z" fill="none" stroke="#ff0000" stroke-width="2.1"/>
<path d="M501 45.68L492.3 40.65L492.3 50.7Z" fill="none" stroke="#ff0000" stroke-width="2.1"/>
<path d="M505.63 48.75L496.93 43.73L496.93 53.77Z" fill="none" stroke="#ff0000" stroke-width="2.1"/>
<path d="M510.26 51.75L501.56 46.73L501.56 56.77Z" fill="none" stroke="#ff0000" stroke-width="2.1"/>
<path d="M514.89 54.67L506.19 49.65L506.19 59.7Z" fill="none" stroke="#ff0000" stroke-width="2.1"/>
<path d="M519.52 57.54L510.82 52.51L510.82 62.56Z" fill="none" stroke="#ff0000" stroke-width="2.1"/>
<path d="M524.15 60.34L515.45 55.32L515.45 65.36Z" fill="none" stroke="#ff0000" stroke-width="2.1"/>
</g>
</g>
<path d="M74.95 12.6L77.95 11.3L77.95 13.9Z" fill="#0000ff"/>
<path d="M78.85 7.9L79.75 5.9L81.05 7.9Z" fill="#ff0000"/>
<rect x="82.15" y="5.1" width="1.9" height="2.6" fill="#b8860b"/>
<path d="M85.05 7.9L86.25 5.9L87.45 7.9Z" fill="#0000ff"/>
<rect x="76.25" y="8.5" width="1.2" height="1.8" fill="#40e0d0"/>
<rect x="77.15" y="6.9" width="1.2" height="1.4" fill="#9400d3"/>
<path d="M445.4 12.6L448.4 11.3L448.4 13.9Z" fill="#0000ff"/>
<path d="M449.3 7.9L450.2 5.9L451.5 7.9Z" fill="#ff0000"/>
<rect x="452.6" y="5.1" width="1.9" height="2.6" fill="#b8860b"/>
<path d="M455.5 7.9L456.7 5.9L457.9 7.9Z" fill="#0000ff"/>
<rect x="446.7" y="8.5" width="1.2" height="1.8" fill="#40e0d0"/>
<rect x="447.6" y="6.9" width="1.2" height="1.4" fill="#9400d3"/>
<g>
<circle cx="78.45" cy="473.7" r="6.1" fill="#bc8f8f" stroke="none"/>
<circle cx="90.03" cy="473.7" r="6.1" fill="#bc8f8f" stroke="none"/>
<circle cx="101.6" cy="473.66" r="6.1" fill="#bc8f8f" stroke="none"/>
<circle cx="113.18" cy="473.57" r="6.1" fill="#bc8f8f" stroke="none"/>
<circle cx="124.76" cy="473.39" r="6.1" fill="#bc8f8f" stroke="none"/>
<circle cx="136.33" cy="473.08" r="6.1" fill="#bc8f8f" stroke="none"/>
<circle cx="147.91" cy="472.6" r="6.1" fill="#bc8f8f" stroke="none"/>
<circle cx="159.49" cy="471.92" r="6.1" fill="#bc8f8f" stroke="none"/>
<circle cx="171.06" cy="471.01" r="6.1" fill="#bc8f8f" stroke="none"/>
<circle cx="182.64" cy="469.83" r="6.1" fill="#bc8f8f" stroke="none"/>
<circle cx="194.22" cy="468.33" r="6.1" fill="#bc8f8f" stroke="none"/>
<circle cx="205.79" cy="466.48" r="6.1" fill="#bc8f8f" stroke="none"/>
<circle cx="217.37" cy="464.24" r="6.1" fill="#bc8f8f" stroke="none"/>
<circle cx="228.95" cy="461.7" r="6.1" fill="#bc8f8f" stroke="none"/>
<circle cx="240.52" cy="458.4" r="6.1" fill="#bc8f8f" stroke="none"/>
<circle cx="252.1" cy="454.7" r="6.1" fill="#bc8f8f" stroke="none"/>
<circle cx="263.68" cy="450.3" r="6.1" fill="#bc8f8f" stroke="none"/>
<circle cx="275.25" cy="445.9" r="6.1" fill="#bc8f8f" stroke="none"/>
<circle cx="286.83" cy="440.25" r="6.1" fill="#bc8f8f" stroke="none"/>
<circle cx="298.4" cy="434.75" r="6.1" fill="#bc8f8f" stroke="none"/>
<circle cx="309.98" cy="428.1" r="6.1" fill="#bc8f8f" stroke="none"/>
<circle cx="321.56" cy="421.1" r="6.1" fill="#bc8f8f" stroke="none"/>
<circle cx="333.13" cy="413.1" r="6.1" fill="#bc8f8f" stroke="none"/>
<circle cx="344.71" cy="404.75" r="6.1" fill="#bc8f8f" stroke="none"/>
<circle cx="356.29" cy="395.9" r="6.1" fill="#bc8f8f" stroke="none"/>
<circle cx="367.86" cy="386.05" r="6.1" fill="#bc8f8f" stroke="none"/>
<circle cx="379.44" cy="375.8" r="6.1" fill="#bc8f8f" stroke="none"/>
<circle cx="391.02" cy="364.8" r="6.1" fill="#bc8f8f" stroke="none"/>
<circle cx="402.59" cy="353.3" r="6.1" fill="#bc8f8f" stroke="none"/>
<circle cx="414.17" cy="341.05" r="6.1" fill="#bc8f8f" stroke="none"/>
<circle cx="425.75" cy="328.3" r="6.1" fill="#bc8f8f" stroke="none"/>
<circle cx="437.32" cy="314.55" r="6.1" fill="#bc8f8f" stroke="none"/>
</g>
<g>
<path d="M72.65 473.7L81.35 468.68L81.35 478.72Z" fill="none" stroke="#0000ff" stroke-width="2.1"/>
<path d="M84.23 473.7L92.93 468.67L92.93 478.72Z" fill="none" stroke="#0000ff" stroke-width="2.1"/>
<path d="M95.8 473.67L104.5 468.64L104.5 478.69Z" fill="none" stroke="#0000ff" stroke-width="2.1"/>
<path d="M107.38 473.58L116.08 468.56L116.08 478.6Z" fill="none" stroke="#0000ff" stroke-width="2.1"/>
<path d="M118.96 473.39L127.66 468.36L127.66 478.41Z" fill="none" stroke="#0000ff" stroke-width="2.1"/>
<path d="M130.53 473.05L139.23 468.02L139.23 478.07Z" fill="none" stroke="#0000ff" stroke-width="2.1"/>
<path d="M142.11 472.51L150.81 467.48L150.81 477.53Z" fill="none" stroke="#0000ff" stroke-width="2.1"/>
<path d="M153.69 471.72L162.39 466.7L162.39 476.74Z" fill="none" stroke="#0000ff" stroke-width="2.1"/>
<path d="M165.26 470.63L173.96 465.61L173.96 475.65Z" fill="none" stroke="#0000ff" stroke-width="2.1"/>
<path d="M176.84 469.18L185.54 464.15L185.54 474.2Z" fill="none" stroke="#0000ff" stroke-width="2.1"/>
<path d="M188.42 467.3L197.12 462.28L197.12 472.33Z" fill="none" stroke="#0000ff" stroke-width="2.1"/>
<path d="M199.99 464.95L208.69 459.93L208.69 469.97Z" fill="none" stroke="#0000ff" stroke-width="2.1"/>
<path d="M211.57 462.25L220.27 457.23L220.27 467.27Z" fill="none" stroke="#0000ff" stroke-width="2.1"/>
<path d="M223.15 458.5L231.85 453.48L231.85 463.52Z" fill="none" stroke="#0000ff" stroke-width="2.1"/>
<path d="M234.72 454.1L243.42 449.08L243.42 459.12Z" fill="none" stroke="#0000ff" stroke-width="2.1"/>
<path d="M246.3 449.2L255 444.18L255 454.22Z" fill="none" stroke="#0000ff" stroke-width="2.1"/>
<path d="M257.88 443.55L266.57 438.53L266.57 448.57Z" fill="none" stroke="#0000ff" stroke-width="2.1"/>
<path d="M269.45 437.15L278.15 432.13L278.15 442.17Z" fill="none" stroke="#0000ff" stroke-width="2.1"/>
<path d="M281.03 430.15L289.73 425.13L289.73 435.17Z" fill="none" stroke="#0000ff" stroke-width="2.1"/>
<path d="M292.6 422.65L301.3 417.63L301.3 427.67Z" fill="none" stroke="#0000ff" stroke-width="2.1"/>
<path d="M304.18 413.6L312.88 408.58L312.88 418.62Z" fill="none" stroke="#0000ff" stroke-width="2.1"/>
<path d="M315.76 404.15L324.46 399.13L324.46 409.17Z" fill="none" stroke="#0000ff" stroke-width="2.1"/>
<path d="M327.33 394.15L336.03 389.13L336.03 399.17Z" fill="none" stroke="#0000ff" stroke-width="2.1"/>
<path d="M338.91 382.75L347.61 377.73L347.61 387.77Z" fill="none" stroke="#0000ff" stroke-width="2.1"/>
<path d="M350.49 370.3L359.19 365.28L359.19 375.32Z" fill="none" stroke="#0000ff" stroke-width="2.1"/>
<path d="M362.06 357.3L370.76 352.28L370.76 362.32Z" fill="none" stroke="#0000ff" stroke-width="2.1"/>
<path d="M373.64 342.8L382.34 337.78L382.34 347.82Z" fill="none" stroke="#0000ff" stroke-width="2.1"/>
<path d="M385.22 327.3L393.92 322.28L393.92 332.32Z" fill="none" stroke="#0000ff" stroke-width="2.1"/>
</g>
<g>
<path d="M78.45 479.5L73.43 470.8L83.47 470.8Z" fill="#40e0d0" stroke="#40e0d0" stroke-width="2.1"/>
<path d="M90.03 479.5L85 470.8L95.05 470.8Z" fill="#40e0d0" stroke="#40e0d0" stroke-width="2.1"/>
<path d="M101.6 479.45L96.58 470.75L106.63 470.75Z" fill="#40e0d0" stroke="#40e0d0" stroke-width="2.1"/>
<path d="M113.18 479.32L108.16 470.62L118.2 470.62Z" fill="#40e0d0" stroke="#40e0d0" stroke-width="2.1"/>
<path d="M124.76 479.04L119.73 470.34L129.78 470.34Z" fill="#40e0d0" stroke="#40e0d0" stroke-width="2.1"/>
<path d="M136.33 478.55L131.31 469.85L141.36 469.85Z" fill="#40e0d0" stroke="#40e0d0" stroke-width="2.1"/>
<path d="M147.91 477.76L142.89 469.06L152.93 469.06Z" fill="#40e0d0" stroke="#40e0d0" stroke-width="2.1"/>
<path d="M159.49 476.61L154.46 467.91L164.51 467.91Z" fill="#40e0d0" stroke="#40e0d0" stroke-width="2.1"/>
<path d="M171.06 475.02L166.04 466.32L176.09 466.32Z" fill="#40e0d0" stroke="#40e0d0" stroke-width="2.1"/>
<path d="M182.64 472.89L177.62 464.19L187.66 464.19Z" fill="#40e0d0" stroke="#40e0d0" stroke-width="2.1"/>
<path d="M194.22 470.3L189.19 461.6L199.24 461.6Z" fill="#40e0d0" stroke="#40e0d0" stroke-width="2.1"/>
<path d="M205.79 466.6L200.77 457.9L210.81 457.9Z" fill="#40e0d0" stroke="#40e0d0" stroke-width="2.1"/>
<path d="M217.37 462.4L212.35 453.7L222.39 453.7Z" fill="#40e0d0" stroke="#40e0d0" stroke-width="2.1"/>
<path d="M228.95 456.8L223.92 448.1L233.97 448.1Z" fill="#40e0d0" stroke="#40e0d0" stroke-width="2.1"/>
<path d="M240.52 450.77L235.5 442.07L245.54 442.07Z" fill="#40e0d0" stroke="#40e0d0" stroke-width="2.1"/>
<path d="M252.1 443.95L247.08 435.25L257.12 435.25Z" fill="#40e0d0" stroke="#40e0d0" stroke-width="2.1"/>
<path d="M263.68 436.2L258.65 427.5L268.7 427.5Z" fill="#40e0d0" stroke="#40e0d0" stroke-width="2.1"/>
<path d="M275.25 427.1L270.23 418.4L280.27 418.4Z" fill="#40e0d0" stroke="#40e0d0" stroke-width="2.1"/>
<path d="M286.83 416.9L281.81 408.2L291.85 408.2Z" fill="#40e0d0" stroke="#40e0d0" stroke-width="2.1"/>
<path d="M298.4 405.15L293.38 396.45L303.43 396.45Z" fill="#40e0d0" stroke="#40e0d0" stroke-width="2.1"/>
<path d="M309.98 392.15L304.96 383.45L315 383.45Z" fill="#40e0d0" stroke="#40e0d0" stroke-width="2.1"/>
<path d="M321.56 377.7L316.54 369L326.58 369Z" fill="#40e0d0" stroke="#40e0d0" stroke-width="2.1"/>
<path d="M333.13 362L328.11 353.3L338.16 353.3Z" fill="#40e0d0" stroke="#40e0d0" stroke-width="2.1"/>
<path d="M344.71 344.1L339.69 335.4L349.73 335.4Z" fill="#40e0d0" stroke="#40e0d0" stroke-width="2.1"/>
</g>
<g>
<rect x="74.1" y="469.35" width="8.7" height="8.7" fill="none" stroke="#9400d3" stroke-width="2.1"/>
<rect x="85.68" y="469.34" width="8.7" height="8.7" fill="none" stroke="#9400d3" stroke-width="2.1"/>
<rect x="97.25" y="469.28" width="8.7" height="8.7" fill="none" stroke="#9400d3" stroke-width="2.1"/>
<rect x="108.83" y="469.06" width="8.7" height="8.7" fill="none" stroke="#9400d3" stroke-width="2.1"/>
<rect x="120.41" y="468.6" width="8.7" height="8.7" fill="none" stroke="#9400d3" stroke-width="2.1"/>
<rect x="131.98" y="467.76" width="8.7" height="8.7" fill="none" stroke="#9400d3" stroke-width="2.1"/>
<rect x="143.56" y="466.43" width="8.7" height="8.7" fill="none" stroke="#9400d3" stroke-width="2.1"/>
<rect x="155.14" y="464.45" width="8.7" height="8.7" fill="none" stroke="#9400d3" stroke-width="2.1"/>
<rect x="166.71" y="461.67" width="8.7" height="8.7" fill="none" stroke="#9400d3" stroke-width="2.1"/>
<rect x="178.29" y="458" width="8.7" height="8.7" fill="none" stroke="#9400d3" stroke-width="2.1"/>
<rect x="189.87" y="453.15" width="8.7" height="8.7" fill="none" stroke="#9400d3" stroke-width="2.1"/>
<rect x="201.44" y="446.85" width="8.7" height="8.7" fill="none" stroke="#9400d3" stroke-width="2.1"/>
<rect x="213.02" y="439.25" width="8.7" height="8.7" fill="none" stroke="#9400d3" stroke-width="2.1"/>
<rect x="224.6" y="430.3" width="8.7" height="8.7" fill="none" stroke="#9400d3" stroke-width="2.1"/>
<rect x="236.17" y="419.3" width="8.7" height="8.7" fill="none" stroke="#9400d3" stroke-width="2.1"/>
<rect x="247.75" y="406.15" width="8.7" height="8.7" fill="none" stroke="#9400d3" stroke-width="2.1"/>
<rect x="259.32" y="391.05" width="8.7" height="8.7" fill="none" stroke="#9400d3" stroke-width="2.1"/>
<rect x="270.9" y="373.95" width="8.7" height="8.7" fill="none" stroke="#9400d3" stroke-width="2.1"/>
<rect x="282.48" y="353.95" width="8.7" height="8.7" fill="none" stroke="#9400d3" stroke-width="2.1"/>
<rect x="294.05" y="330.45" width="8.7" height="8.7" fill="none" stroke="#9400d3" stroke-width="2.1"/>
</g>
<g>
<path d="M72.05 473.7L78.45 467.3L84.85 473.7L78.45 480.1Z" fill="#ffa500" stroke="none"/>
<path d="M83.63 473.69L90.03 467.29L96.43 473.69L90.03 480.09Z" fill="#ffa500" stroke="none"/>
<path d="M95.2 473.57L101.6 467.17L108 473.57L101.6 479.97Z" fill="#ffa500" stroke="none"/>
<path d="M106.78 473.22L113.18 466.82L119.58 473.22L113.18 479.62Z" fill="#ffa500" stroke="none"/>
<path d="M118.36 472.46L124.76 466.06L131.16 472.46L124.76 478.86Z" fill="#ffa500" stroke="none"/>
<path d="M129.93 471.12L136.33 464.72L142.73 471.12L136.33 477.52Z" fill="#ffa500" stroke="none"/>
<path d="M141.51 469.01L147.91 462.61L154.31 469.01L147.91 475.41Z" fill="#ffa500" stroke="none"/>
<path d="M153.09 465.93L159.49 459.53L165.89 465.93L159.49 472.33Z" fill="#ffa500" stroke="none"/>
<path d="M164.66 461.7L171.06 455.3L177.46 461.7L171.06 468.1Z" fill="#ffa500" stroke="none"/>
<path d="M176.24 456.1L182.64 449.7L189.04 456.1L182.64 462.5Z" fill="#ffa500" stroke="none"/>
<path d="M187.82 448.25L194.22 441.85L200.62 448.25L194.22 454.65Z" fill="#ffa500" stroke="none"/>
<path d="M199.39 439.5L205.79 433.1L212.19 439.5L205.79 445.9Z" fill="#ffa500" stroke="none"/>
<path d="M210.97 428.1L217.37 421.7L223.77 428.1L217.37 434.5Z" fill="#ffa500" stroke="none"/>
<path d="M222.55 414.65L228.95 408.25L235.35 414.65L228.95 421.05Z" fill="#ffa500" stroke="none"/>
<path d="M234.12 398.4L240.52 392L246.92 398.4L240.52 404.8Z" fill="#ffa500" stroke="none"/>
<path d="M245.7 379L252.1 372.6L258.5 379L252.1 385.4Z" fill="#ffa500" stroke="none"/>
<path d="M257.28 356.2L263.68 349.8L270.07 356.2L263.68 362.6Z" fill="#ffa500" stroke="none"/>
<path d="M268.85 329.8L275.25 323.4L281.65 329.8L275.25 336.2Z" fill="#ffa500" stroke="none"/>
</g>
<g>
<path d="M84.25 473.7L75.55 468.68L75.55 478.72Z" fill="none" stroke="#ff0000" stroke-width="2.1"/>
<path d="M95.83 473.69L87.13 468.67L87.13 478.71Z" fill="none" stroke="#ff0000" stroke-width="2.1"/>
<path d="M107.4 473.58L98.7 468.56L98.7 478.6Z" fill="none" stroke="#ff0000" stroke-width="2.1"/>
<path d="M118.98 473.4L110.28 468.38L110.28 478.42Z" fill="none" stroke="#ff0000" stroke-width="2.1"/>
<path d="M130.56 472.4L121.86 467.38L121.86 477.42Z" fill="none" stroke="#ff0000" stroke-width="2.1"/>
<path d="M142.13 470.4L133.43 465.38L133.43 475.42Z" fill="none" stroke="#ff0000" stroke-width="2.1"/>
<path d="M153.71 467.1L145.01 462.08L145.01 472.12Z" fill="none" stroke="#ff0000" stroke-width="2.1"/>
<path d="M165.29 462.4L156.59 457.38L156.59 467.42Z" fill="none" stroke="#ff0000" stroke-width="2.1"/>
<path d="M176.86 456.5L168.16 451.48L168.16 461.52Z" fill="none" stroke="#ff0000" stroke-width="2.1"/>
<path d="M188.44 448.3L179.74 443.28L179.74 453.32Z" fill="none" stroke="#ff0000" stroke-width="2.1"/>
<path d="M200.02 437.6L191.32 432.58L191.32 442.62Z" fill="none" stroke="#ff0000" stroke-width="2.1"/>
<path d="M211.59 424.5L202.89 419.48L202.89 429.52Z" fill="none" stroke="#ff0000" stroke-width="2.1"/>
<path d="M223.17 408L214.47 402.98L214.47 413.02Z" fill="none" stroke="#ff0000" stroke-width="2.1"/>
<path d="M234.75 386.55L226.05 381.53L226.05 391.57Z" fill="none" stroke="#ff0000" stroke-width="2.1"/>
<path d="M246.32 361.05L237.62 356.03L237.62 366.07Z" fill="none" stroke="#ff0000" stroke-width="2.1"/>
<path d="M257.9 330.3L249.2 325.28L249.2 335.32Z" fill="none" stroke="#ff0000" stroke-width="2.1"/>
</g>
<g>
<circle cx="448.9" cy="473.7" r="6.1" fill="#bc8f8f" stroke="none"/>
<circle cx="460.47" cy="473.7" r="6.1" fill="#bc8f8f" stroke="none"/>
<circle cx="472.05" cy="473.68" r="6.1" fill="#bc8f8f" stroke="none"/>
<circle cx="483.62" cy="473.62" r="6.1" fill="#bc8f8f" stroke="none"/>
<circle cx="495.2" cy="473.49" r="6.1" fill="#bc8f8f" stroke="none"/>
<circle cx="506.77" cy="473.26" r="6.1" fill="#bc8f8f" stroke="none"/>
<circle cx="518.35" cy="472.9" r="6.1" fill="#bc8f8f" stroke="none"/>
<circle cx="529.92" cy="472.39" r="6.1" fill="#bc8f8f" stroke="none"/>
<circle cx="541.5" cy="471.67" r="6.1" fill="#bc8f8f" stroke="none"/>
<circle cx="553.07" cy="470.72" r="6.1" fill="#bc8f8f" stroke="none"/>
<circle cx="564.65" cy="469.5" r="6.1" fill="#bc8f8f" stroke="none"/>
<circle cx="576.22" cy="467.98" r="6.1" fill="#bc8f8f" stroke="none"/>
<circle cx="587.8" cy="466.1" r="6.1" fill="#bc8f8f" stroke="none"/>
<circle cx="599.38" cy="463.84" r="6.1" fill="#bc8f8f" stroke="none"/>
<circle cx="610.95" cy="461.4" r="6.1" fill="#bc8f8f" stroke="none"/>
<circle cx="622.52" cy="457.9" r="6.1" fill="#bc8f8f" stroke="none"/>
<circle cx="634.1" cy="453.8" r="6.1" fill="#bc8f8f" stroke="none"/>
<circle cx="645.67" cy="449.82" r="6.1" fill="#bc8f8f" stroke="none"/>
<circle cx="657.25" cy="445.35" r="6.1" fill="#bc8f8f" stroke="none"/>
<circle cx="668.82" cy="439.8" r="6.1" fill="#bc8f8f" stroke="none"/>
<circle cx="680.4" cy="433.6" r="6.1" fill="#bc8f8f" stroke="none"/>
<circle cx="691.97" cy="427" r="6.1" fill="#bc8f8f" stroke="none"/>
<circle cx="703.55" cy="420" r="6.1" fill="#bc8f8f" stroke="none"/>
<circle cx="715.12" cy="412.15" r="6.1" fill="#bc8f8f" stroke="none"/>
<circle cx="726.7" cy="403.5" r="6.1" fill="#bc8f8f" stroke="none"/>
<circle cx="738.27" cy="394.55" r="6.1" fill="#bc8f8f" stroke="none"/>
<circle cx="749.85" cy="385.3" r="6.1" fill="#bc8f8f" stroke="none"/>
<circle cx="761.42" cy="375.3" r="6.1" fill="#bc8f8f" stroke="none"/>
<circle cx="773" cy="364.55" r="6.1" fill="#bc8f8f" stroke="none"/>
<circle cx="784.57" cy="352.8" r="6.1" fill="#bc8f8f" stroke="none"/>
<circle cx="796.15" cy="340.3" r="6.1" fill="#bc8f8f" stroke="none"/>
<circle cx="807.72" cy="327.8" r="6.1" fill="#bc8f8f" stroke="none"/>
</g>
<g>
<path d="M443.1 473.7L451.8 468.68L451.8 478.72Z" fill="none" stroke="#0000ff" stroke-width="2.1"/>
<path d="M454.67 473.7L463.37 468.67L463.37 478.72Z" fill="none" stroke="#0000ff" stroke-width="2.1"/>
<path d="M466.25 473.66L474.95 468.64L474.95 478.69Z" fill="none" stroke="#0000ff" stroke-width="2.1"/>
<path d="M477.82 473.57L486.52 468.55L486.52 478.59Z" fill="none" stroke="#0000ff" stroke-width="2.1"/>
<path d="M489.4 473.37L498.1 468.35L498.1 478.4Z" fill="none" stroke="#0000ff" stroke-width="2.1"/>
<path d="M500.97 473.03L509.67 468.01L509.67 478.06Z" fill="none" stroke="#0000ff" stroke-width="2.1"/>
<path d="M512.55 472.51L521.25 467.49L521.25 477.53Z" fill="none" stroke="#0000ff" stroke-width="2.1"/>
<path d="M524.12 471.76L532.82 466.73L532.82 476.78Z" fill="none" stroke="#0000ff" stroke-width="2.1"/>
<path d="M535.7 470.73L544.4 465.7L544.4 475.75Z" fill="none" stroke="#0000ff" stroke-width="2.1"/>
<path d="M547.27 469.37L555.97 464.35L555.97 474.39Z" fill="none" stroke="#0000ff" stroke-width="2.1"/>
<path d="M558.85 467.65L567.55 462.62L567.55 472.67Z" fill="none" stroke="#0000ff" stroke-width="2.1"/>
<path d="M570.42 465.5L579.12 460.48L579.12 470.52Z" fill="none" stroke="#0000ff" stroke-width="2.1"/>
<path d="M582 462.88L590.7 457.86L590.7 467.91Z" fill="none" stroke="#0000ff" stroke-width="2.1"/>
<path d="M593.58 460L602.27 454.98L602.27 465.02Z" fill="none" stroke="#0000ff" stroke-width="2.1"/>
<path d="M605.15 456L613.85 450.98L613.85 461.02Z" fill="none" stroke="#0000ff" stroke-width="2.1"/>
<path d="M616.73 451.4L625.42 446.38L625.42 456.42Z" fill="none" stroke="#0000ff" stroke-width="2.1"/>
<path d="M628.3 446L637 440.98L637 451.02Z" fill="none" stroke="#0000ff" stroke-width="2.1"/>
<path d="M639.88 441L648.57 435.98L648.57 446.02Z" fill="none" stroke="#0000ff" stroke-width="2.1"/>
<path d="M651.45 434.6L660.15 429.58L660.15 439.62Z" fill="none" stroke="#0000ff" stroke-width="2.1"/>
<path d="M663.02 427.5L671.72 422.48L671.72 432.52Z" fill="none" stroke="#0000ff" stroke-width="2.1"/>
<path d="M674.6 418.65L683.3 413.63L683.3 423.67Z" fill="none" stroke="#0000ff" stroke-width="2.1"/>
<path d="M686.17 409.75L694.87 404.73L694.87 414.77Z" fill="none" stroke="#0000ff" stroke-width="2.1"/>
<path d="M697.75 400L706.45 394.98L706.45 405.02Z" fill="none" stroke="#0000ff" stroke-width="2.1"/>
<path d="M709.33 389.5L718.02 384.48L718.02 394.52Z" fill="none" stroke="#0000ff" stroke-width="2.1"/>
<path d="M720.9 377.8L729.6 372.78L729.6 382.82Z" fill="none" stroke="#0000ff" stroke-width="2.1"/>
<path d="M732.48 365.3L741.17 360.28L741.17 370.32Z" fill="none" stroke="#0000ff" stroke-width="2.1"/>
<path d="M744.05 351.55L752.75 346.53L752.75 356.57Z" fill="none" stroke="#0000ff" stroke-width="2.1"/>
<path d="M755.62 337.05L764.32 332.03L764.32 342.07Z" fill="none" stroke="#0000ff" stroke-width="2.1"/>
</g>
<g>
<path d="M448.9 479.5L443.88 470.8L453.92 470.8Z" fill="#40e0d0" stroke="#40e0d0" stroke-width="2.1"/>
<path d="M460.47 479.5L455.45 470.8L465.5 470.8Z" fill="#40e0d0" stroke="#40e0d0" stroke-width="2.1"/>
<path d="M472.05 479.47L467.03 470.77L477.07 470.77Z" fill="#40e0d0" stroke="#40e0d0" stroke-width="2.1"/>
<path d="M483.62 479.37L478.6 470.67L488.65 470.67Z" fill="#40e0d0" stroke="#40e0d0" stroke-width="2.1"/>
<path d="M495.2 479.15L490.18 470.45L500.22 470.45Z" fill="#40e0d0" stroke="#40e0d0" stroke-width="2.1"/>
<path d="M506.77 478.75L501.75 470.05L511.8 470.05Z" fill="#40e0d0" stroke="#40e0d0" stroke-width="2.1"/>
<path d="M518.35 478.08L513.33 469.38L523.37 469.38Z" fill="#40e0d0" stroke="#40e0d0" stroke-width="2.1"/>
<path d="M529.92 477.09L524.9 468.39L534.95 468.39Z" fill="#40e0d0" stroke="#40e0d0" stroke-width="2.1"/>
<path d="M541.5 475.68L536.48 466.98L546.52 466.98Z" fill="#40e0d0" stroke="#40e0d0" stroke-width="2.1"/>
<path d="M553.07 473.76L548.05 465.06L558.1 465.06Z" fill="#40e0d0" stroke="#40e0d0" stroke-width="2.1"/>
<path d="M564.65 471.4L559.63 462.7L569.67 462.7Z" fill="#40e0d0" stroke="#40e0d0" stroke-width="2.1"/>
<path d="M576.22 467.85L571.2 459.15L581.25 459.15Z" fill="#40e0d0" stroke="#40e0d0" stroke-width="2.1"/>
<path d="M587.8 463.85L582.78 455.15L592.82 455.15Z" fill="#40e0d0" stroke="#40e0d0" stroke-width="2.1"/>
<path d="M599.38 459.05L594.35 450.35L604.4 450.35Z" fill="#40e0d0" stroke="#40e0d0" stroke-width="2.1"/>
<path d="M610.95 453L605.93 444.3L615.97 444.3Z" fill="#40e0d0" stroke="#40e0d0" stroke-width="2.1"/>
<path d="M622.52 446L617.5 437.3L627.55 437.3Z" fill="#40e0d0" stroke="#40e0d0" stroke-width="2.1"/>
<path d="M634.1 438.1L629.08 429.4L639.12 429.4Z" fill="#40e0d0" stroke="#40e0d0" stroke-width="2.1"/>
<path d="M645.67 429.1L640.65 420.4L650.7 420.4Z" fill="#40e0d0" stroke="#40e0d0" stroke-width="2.1"/>
<path d="M657.25 419.05L652.23 410.35L662.27 410.35Z" fill="#40e0d0" stroke="#40e0d0" stroke-width="2.1"/>
<path d="M668.82 407.8L663.8 399.1L673.85 399.1Z" fill="#40e0d0" stroke="#40e0d0" stroke-width="2.1"/>
<path d="M680.4 394.8L675.38 386.1L685.42 386.1Z" fill="#40e0d0" stroke="#40e0d0" stroke-width="2.1"/>
<path d="M691.97 380.35L686.95 371.65L697 371.65Z" fill="#40e0d0" stroke="#40e0d0" stroke-width="2.1"/>
<path d="M703.55 364.85L698.53 356.15L708.57 356.15Z" fill="#40e0d0" stroke="#40e0d0" stroke-width="2.1"/>
<path d="M715.12 347.35L710.1 338.65L720.15 338.65Z" fill="#40e0d0" stroke="#40e0d0" stroke-width="2.1"/>
</g>
<g>
<rect x="444.55" y="469.35" width="8.7" height="8.7" fill="none" stroke="#9400d3" stroke-width="2.1"/>
<rect x="456.12" y="469.34" width="8.7" height="8.7" fill="none" stroke="#9400d3" stroke-width="2.1"/>
<rect x="467.7" y="469.26" width="8.7" height="8.7" fill="none" stroke="#9400d3" stroke-width="2.1"/>
<rect x="479.27" y="469.03" width="8.7" height="8.7" fill="none" stroke="#9400d3" stroke-width="2.1"/>
<rect x="490.85" y="468.51" width="8.7" height="8.7" fill="none" stroke="#9400d3" stroke-width="2.1"/>
<rect x="502.42" y="467.61" width="8.7" height="8.7" fill="none" stroke="#9400d3" stroke-width="2.1"/>
<rect x="514" y="466.17" width="8.7" height="8.7" fill="none" stroke="#9400d3" stroke-width="2.1"/>
<rect x="525.57" y="464.07" width="8.7" height="8.7" fill="none" stroke="#9400d3" stroke-width="2.1"/>
<rect x="537.15" y="461.16" width="8.7" height="8.7" fill="none" stroke="#9400d3" stroke-width="2.1"/>
<rect x="548.72" y="457.15" width="8.7" height="8.7" fill="none" stroke="#9400d3" stroke-width="2.1"/>
<rect x="560.3" y="452.5" width="8.7" height="8.7" fill="none" stroke="#9400d3" stroke-width="2.1"/>
<rect x="571.87" y="446.05" width="8.7" height="8.7" fill="none" stroke="#9400d3" stroke-width="2.1"/>
<rect x="583.45" y="438.2" width="8.7" height="8.7" fill="none" stroke="#9400d3" stroke-width="2.1"/>
<rect x="595.02" y="428.95" width="8.7" height="8.7" fill="none" stroke="#9400d3" stroke-width="2.1"/>
<rect x="606.6" y="417.65" width="8.7" height="8.7" fill="none" stroke="#9400d3" stroke-width="2.1"/>
<rect x="618.17" y="404.35" width="8.7" height="8.7" fill="none" stroke="#9400d3" stroke-width="2.1"/>
<rect x="629.75" y="388.55" width="8.7" height="8.7" fill="none" stroke="#9400d3" stroke-width="2.1"/>
<rect x="641.32" y="370.95" width="8.7" height="8.7" fill="none" stroke="#9400d3" stroke-width="2.1"/>
<rect x="652.9" y="349.7" width="8.7" height="8.7" fill="none" stroke="#9400d3" stroke-width="2.1"/>
<rect x="664.47" y="325.45" width="8.7" height="8.7" fill="none" stroke="#9400d3" stroke-width="2.1"/>
</g>
<g>
<path d="M442.5 473.7L448.9 467.3L455.3 473.7L448.9 480.1Z" fill="#ffa500" stroke="none"/>
<path d="M454.07 473.68L460.47 467.28L466.87 473.68L460.47 480.08Z" fill="#ffa500" stroke="none"/>
<path d="M465.65 473.53L472.05 467.13L478.45 473.53L472.05 479.93Z" fill="#ffa500" stroke="none"/>
<path d="M477.23 473.1L483.62 466.7L490.02 473.1L483.62 479.5Z" fill="#ffa500" stroke="none"/>
<path d="M488.8 472.2L495.2 465.8L501.6 472.2L495.2 478.6Z" fill="#ffa500" stroke="none"/>
<path d="M500.38 470.65L506.77 464.25L513.17 470.65L506.77 477.05Z" fill="#ffa500" stroke="none"/>
<path d="M511.95 468.26L518.35 461.86L524.75 468.26L518.35 474.66Z" fill="#ffa500" stroke="none"/>
<path d="M523.52 464.82L529.92 458.42L536.32 464.82L529.92 471.22Z" fill="#ffa500" stroke="none"/>
<path d="M535.1 459.8L541.5 453.4L547.9 459.8L541.5 466.2Z" fill="#ffa500" stroke="none"/>
<path d="M546.67 454.2L553.07 447.8L559.47 454.2L553.07 460.6Z" fill="#ffa500" stroke="none"/>
<path d="M558.25 446.55L564.65 440.15L571.05 446.55L564.65 452.95Z" fill="#ffa500" stroke="none"/>
<path d="M569.82 436.65L576.22 430.25L582.62 436.65L576.22 443.05Z" fill="#ffa500" stroke="none"/>
<path d="M581.4 424.25L587.8 417.85L594.2 424.25L587.8 430.65Z" fill="#ffa500" stroke="none"/>
<path d="M592.98 409.85L599.38 403.45L605.77 409.85L599.38 416.25Z" fill="#ffa500" stroke="none"/>
<path d="M604.55 392.4L610.95 386L617.35 392.4L610.95 398.8Z" fill="#ffa500" stroke="none"/>
<path d="M616.12 372.1L622.52 365.7L628.92 372.1L622.52 378.5Z" fill="#ffa500" stroke="none"/>
<path d="M627.7 347.8L634.1 341.4L640.5 347.8L634.1 354.2Z" fill="#ffa500" stroke="none"/>
<path d="M639.27 318.55L645.67 312.15L652.07 318.55L645.67 324.95Z" fill="#ffa500" stroke="none"/>
</g>
<g>
<path d="M454.7 473.7L446 468.68L446 478.72Z" fill="none" stroke="#ff0000" stroke-width="2.1"/>
<path d="M466.27 473.69L457.57 468.66L457.57 478.71Z" fill="none" stroke="#ff0000" stroke-width="2.1"/>
<path d="M477.85 473.56L469.15 468.53L469.15 478.58Z" fill="none" stroke="#ff0000" stroke-width="2.1"/>
<path d="M489.43 473.1L480.73 468.07L480.73 478.12Z" fill="none" stroke="#ff0000" stroke-width="2.1"/>
<path d="M501 472.15L492.3 467.13L492.3 477.17Z" fill="none" stroke="#ff0000" stroke-width="2.1"/>
<path d="M512.57 469.9L503.88 464.88L503.88 474.92Z" fill="none" stroke="#ff0000" stroke-width="2.1"/>
<path d="M524.15 466.2L515.45 461.18L515.45 471.22Z" fill="none" stroke="#ff0000" stroke-width="2.1"/>
<path d="M535.72 461.2L527.02 456.18L527.02 466.22Z" fill="none" stroke="#ff0000" stroke-width="2.1"/>
<path d="M547.3 454.35L538.6 449.33L538.6 459.37Z" fill="none" stroke="#ff0000" stroke-width="2.1"/>
<path d="M558.87 445.1L550.17 440.08L550.17 450.12Z" fill="none" stroke="#ff0000" stroke-width="2.1"/>
<path d="M570.45 432.6L561.75 427.58L561.75 437.62Z" fill="none" stroke="#ff0000" stroke-width="2.1"/>
<path d="M582.02 417.8L573.32 412.78L573.32 422.82Z" fill="none" stroke="#ff0000" stroke-width="2.1"/>
<path d="M593.6 398.6L584.9 393.58L584.9 403.62Z" fill="none" stroke="#ff0000" stroke-width="2.1"/>
<path d="M605.17 375.8L596.48 370.78L596.48 380.82Z" fill="none" stroke="#ff0000" stroke-width="2.1"/>
<path d="M616.75 347.3L608.05 342.28L608.05 352.32Z" fill="none" stroke="#ff0000" stroke-width="2.1"/>
<path d="M628.32 312.8L619.62 307.78L619.62 317.82Z" fill="none" stroke="#ff0000" stroke-width="2.1"/>
</g>
<path d="M115.5 8.3v3.7M115.5 234.55v-3.7M152.54 8.3v9.9M152.54 234.55v-9.9M189.59 8.3v3.7M189.59 234.55v-3.7M226.63 8.3v9.9M226.63 234.55v-9.9M263.68 8.3v3.7M263.68 234.55v-3.7M300.72 8.3v9.9M300.72 234.55v-9.9M337.76 8.3v3.7M337.76 234.55v-3.7M374.81 8.3v9.9M374.81 234.55v-9.9M411.86 8.3v3.7M411.86 234.55v-3.7M485.94 8.3v3.7M485.94 234.55v-3.7M522.98 8.3v9.9M522.98 234.55v-9.9M560.02 8.3v3.7M560.02 234.55v-3.7M597.06 8.3v9.9M597.06 234.55v-9.9M634.1 8.3v3.7M634.1 234.55v-3.7M671.14 8.3v9.9M671.14 234.55v-9.9M708.18 8.3v3.7M708.18 234.55v-3.7M745.22 8.3v9.9M745.22 234.55v-9.9M782.26 8.3v3.7M782.26 234.55v-3.7M124.76 279.75v3.7M124.76 505.85v-3.7M171.06 279.75v9.9M171.06 505.85v-9.9M217.37 279.75v3.7M217.37 505.85v-3.7M263.68 279.75v9.9M263.68 505.85v-9.9M309.98 279.75v3.7M309.98 505.85v-3.7M356.29 279.75v9.9M356.29 505.85v-9.9M402.59 279.75v3.7M402.59 505.85v-3.7M495.2 279.75v3.7M495.2 505.85v-3.7M541.5 279.75v9.9M541.5 505.85v-9.9M587.8 279.75v3.7M587.8 505.85v-3.7M634.1 279.75v9.9M634.1 505.85v-9.9M680.4 279.75v3.7M680.4 505.85v-3.7M726.7 279.75v9.9M726.7 505.85v-9.9M773 279.75v3.7M773 505.85v-3.7M78.45 46.01h3.7M448.9 46.01h-3.7M448.9 46.01h3.7M819.3 46.01h-3.7M78.45 83.72h9.9M448.9 83.72h-9.9M448.9 83.72h9.9M819.3 83.72h-9.9M78.45 121.42h3.7M448.9 121.42h-3.7M448.9 121.42h3.7M819.3 121.42h-3.7M78.45 159.13h9.9M448.9 159.13h-9.9M448.9 159.13h9.9M819.3 159.13h-9.9M78.45 196.84h3.7M448.9 196.84h-3.7M448.9 196.84h3.7M819.3 196.84h-3.7M78.45 312.05h3.7M448.9 312.05h-3.7M448.9 312.05h3.7M819.3 312.05h-3.7M78.45 344.35h9.9M448.9 344.35h-9.9M448.9 344.35h9.9M819.3 344.35h-9.9M78.45 376.65h3.7M448.9 376.65h-3.7M448.9 376.65h3.7M819.3 376.65h-3.7M78.45 408.95h9.9M448.9 408.95h-9.9M448.9 408.95h9.9M819.3 408.95h-9.9M78.45 441.25h3.7M448.9 441.25h-3.7M448.9 441.25h3.7M819.3 441.25h-3.7M78.45 473.55h9.9M448.9 473.55h-9.9M448.9 473.55h9.9M819.3 473.55h-9.9" fill="none" stroke="#000" stroke-width="1.35" stroke-linecap="butt"/>
<path d="M77.75 8.3H820M77.75 234.55H820M77.75 279.75H820M77.75 505.85H820" fill="none" stroke="#000" stroke-width="1.5"/>
<path d="M78.45 8.3V234.55M819.3 8.3V234.55M78.45 279.75V505.85M819.3 279.75V505.85" fill="none" stroke="#000" stroke-width="1.4"/>
<path d="M448.9 8.3V234.55M448.9 279.75V505.85" fill="none" stroke="#000" stroke-width="1.65"/>
<g font-family="'Liberation Serif', serif" font-size="18.5" fill="#000" stroke="#000" stroke-width="0.22">
<text x="71.6" y="14.5" text-anchor="end">0</text>
<text x="71.6" y="89.92" text-anchor="end">-4</text>
<text x="71.6" y="165.33" text-anchor="end">-8</text>
<text x="71.6" y="240.75" text-anchor="end">-12</text>
<text x="71.9" y="285.95" text-anchor="end">1.03</text>
<text x="71.9" y="350.55" text-anchor="end">1.02</text>
<text x="71.9" y="415.15" text-anchor="end">1.01</text>
<text x="71.9" y="479.75" text-anchor="end">1</text>
<text x="78.75" y="253.7" text-anchor="middle">0</text>
<text x="152.84" y="253.7" text-anchor="middle">16</text>
<text x="226.93" y="253.7" text-anchor="middle">32</text>
<text x="301.02" y="253.7" text-anchor="middle">48</text>
<text x="375.11" y="253.7" text-anchor="middle">64</text>
<text x="449.2" y="253.7" text-anchor="middle">0</text>
<text x="523.28" y="253.7" text-anchor="middle">16</text>
<text x="597.36" y="253.7" text-anchor="middle">32</text>
<text x="671.44" y="253.7" text-anchor="middle">48</text>
<text x="745.52" y="253.7" text-anchor="middle">64</text>
<text x="819.6" y="253.7" text-anchor="middle">80</text>
<text x="78.75" y="525.7" text-anchor="middle">0</text>
<text x="171.36" y="525.7" text-anchor="middle">8</text>
<text x="263.98" y="525.7" text-anchor="middle">16</text>
<text x="356.59" y="525.7" text-anchor="middle">24</text>
<text x="449.2" y="525.7" text-anchor="middle">0</text>
<text x="541.8" y="525.7" text-anchor="middle">8</text>
<text x="634.4" y="525.7" text-anchor="middle">16</text>
<text x="727" y="525.7" text-anchor="middle">24</text>
<text x="819.6" y="525.7" text-anchor="middle">32</text>
<text x="178.2" y="41.2"><tspan font-size="13.13" dy="-11">3</tspan><tspan font-style="italic" dy="11">S</tspan><tspan font-size="13.13" dy="7.6">1</tspan><tspan dy="-7.6" dx="-0.7">(vector)</tspan></text>
<text x="191.7" y="65.5">Upsilon</text>
<text x="112" y="306.7"><tspan font-size="13.13" dy="-11">3</tspan><tspan font-style="italic" dy="11">S</tspan><tspan font-size="13.13" dy="7.6">1</tspan><tspan dy="-7.6" dx="-0.7">(vector)</tspan></text>
<text x="125.5" y="331.6">Upsilon</text>
<text x="544.5" y="42"><tspan font-size="13.13" dy="-11">1</tspan><tspan font-style="italic" dy="11">S</tspan><tspan font-size="13.13" dy="7.8" dx="-0.5">0</tspan><tspan dy="-7.8" dx="-0.8">(pseudoscalar)</tspan></text>
<text x="561.1" y="64.7">η<tspan font-size="13.13" dy="6.8" dx="0.5">b</tspan></text>
<text x="477.9" y="307.4"><tspan font-size="13.13" dy="-11">1</tspan><tspan font-style="italic" dy="11">S</tspan><tspan font-size="13.13" dy="7.8" dx="-0.5">0</tspan><tspan dy="-7.8" dx="-0.8">(pseudoscalar)</tspan></text>
<text x="491.3" y="328.7">η<tspan font-size="13.13" dy="6.8" dx="0.5">b</tspan></text>
<path d="M334 32.1L328.98 40.8L339.02 40.8Z" fill="none" stroke="#000000" stroke-width="2.1"/>
<text x="355.6" y="40.9"><tspan font-style="italic">T</tspan>/<tspan font-style="italic">T</tspan><tspan font-size="13.13" dy="7.6">c</tspan><tspan dy="-7.6" dx="0.6">=0.42</tspan></text>
<circle cx="334" cy="64.75" r="6.1" fill="#bc8f8f" stroke="none"/>
<text x="355.6" y="67.75"><tspan font-style="italic">T</tspan>/<tspan font-style="italic">T</tspan><tspan font-size="13.13" dy="7.6">c</tspan><tspan dy="-7.6" dx="0.6">=1.05</tspan></text>
<path d="M328.2 91.6L336.9 86.58L336.9 96.62Z" fill="none" stroke="#0000ff" stroke-width="2.1"/>
<text x="355.6" y="94.6"><tspan font-style="italic">T</tspan>/<tspan font-style="italic">T</tspan><tspan font-size="13.13" dy="7.6">c</tspan><tspan dy="-7.6" dx="0.6">=1.20</tspan></text>
<path d="M705.8 44L700.78 35.3L710.82 35.3Z" fill="#40e0d0" stroke="#40e0d0" stroke-width="2.1"/>
<text x="728.3" y="41.2"><tspan font-style="italic">T</tspan>/<tspan font-style="italic">T</tspan><tspan font-size="13.13" dy="7.6">c</tspan><tspan dy="-7.6" dx="0.6">=1.40</tspan></text>
<rect x="701.45" y="60.55" width="8.7" height="8.7" fill="none" stroke="#9400d3" stroke-width="2.1"/>
<text x="728.3" y="67.9"><tspan font-style="italic">T</tspan>/<tspan font-style="italic">T</tspan><tspan font-size="13.13" dy="7.6">c</tspan><tspan dy="-7.6" dx="0.6">=1.68</tspan></text>
<path d="M699.4 91.5L705.8 85.1L712.2 91.5L705.8 97.9Z" fill="#ffa500" stroke="none"/>
<text x="728.3" y="94.5"><tspan font-style="italic">T</tspan>/<tspan font-style="italic">T</tspan><tspan font-size="13.13" dy="7.6">c</tspan><tspan dy="-7.6" dx="0.6">=1.86</tspan></text>
<path d="M711.6 118.1L702.9 113.08L702.9 123.12Z" fill="none" stroke="#ff0000" stroke-width="2.1"/>
<text x="728.3" y="121.1"><tspan font-style="italic">T</tspan>/<tspan font-style="italic">T</tspan><tspan font-size="13.13" dy="7.6">c</tspan><tspan dy="-7.6" dx="0.6">=2.09</tspan></text>
</g>
<g font-family="'Liberation Serif', serif" font-size="23.3" fill="#000" stroke="#000" stroke-width="0.28">
<text x="245.9" y="548.3"><tspan font-size="25.3" textLength="10.49" lengthAdjust="spacingAndGlyphs">τ</tspan>/<tspan font-style="italic">a</tspan><tspan font-size="17.97" textLength="7.45" lengthAdjust="spacingAndGlyphs" dx="-0.6" dy="9.9">τ</tspan></text>
<text x="619.7" y="548.3"><tspan font-size="25.3" textLength="10.49" lengthAdjust="spacingAndGlyphs">τ</tspan>/<tspan font-style="italic">a</tspan><tspan font-size="17.97" textLength="7.45" lengthAdjust="spacingAndGlyphs" dx="-0.6" dy="9.9">τ</tspan></text>
<text transform="translate(35.55 190) rotate(-90)">log[<tspan font-style="italic" font-size="24.47">G</tspan>(<tspan font-size="25.3" textLength="11.99" lengthAdjust="spacingAndGlyphs" dx="-0.8">τ</tspan><tspan dx="-1.3">)</tspan>/<tspan font-style="italic" font-size="24.47">G</tspan>(0)]</text>
<text transform="translate(17.2 460.1) rotate(-90)"><tspan font-style="italic" font-size="24.47">G</tspan><tspan font-style="italic" font-size="16.54" dy="9.9">N</tspan><tspan font-size="12.76" textLength="5.29" lengthAdjust="spacingAndGlyphs" dy="6.5">τ</tspan><tspan dy="-16.4">(</tspan><tspan font-size="25.3" textLength="11.99" lengthAdjust="spacingAndGlyphs" dx="-0.8">τ</tspan><tspan dx="-1.3 -1.3 0 -0.4">) / </tspan><tspan font-style="italic" font-size="24.47">G</tspan><tspan font-size="15.55" dy="9.9">80</tspan><tspan dy="-9.9">(</tspan><tspan font-size="25.3" textLength="11.99" lengthAdjust="spacingAndGlyphs" dx="-0.8">τ</tspan><tspan dx="-1.3">)</tspan></text>
</g>
</svg>
</body></html>
